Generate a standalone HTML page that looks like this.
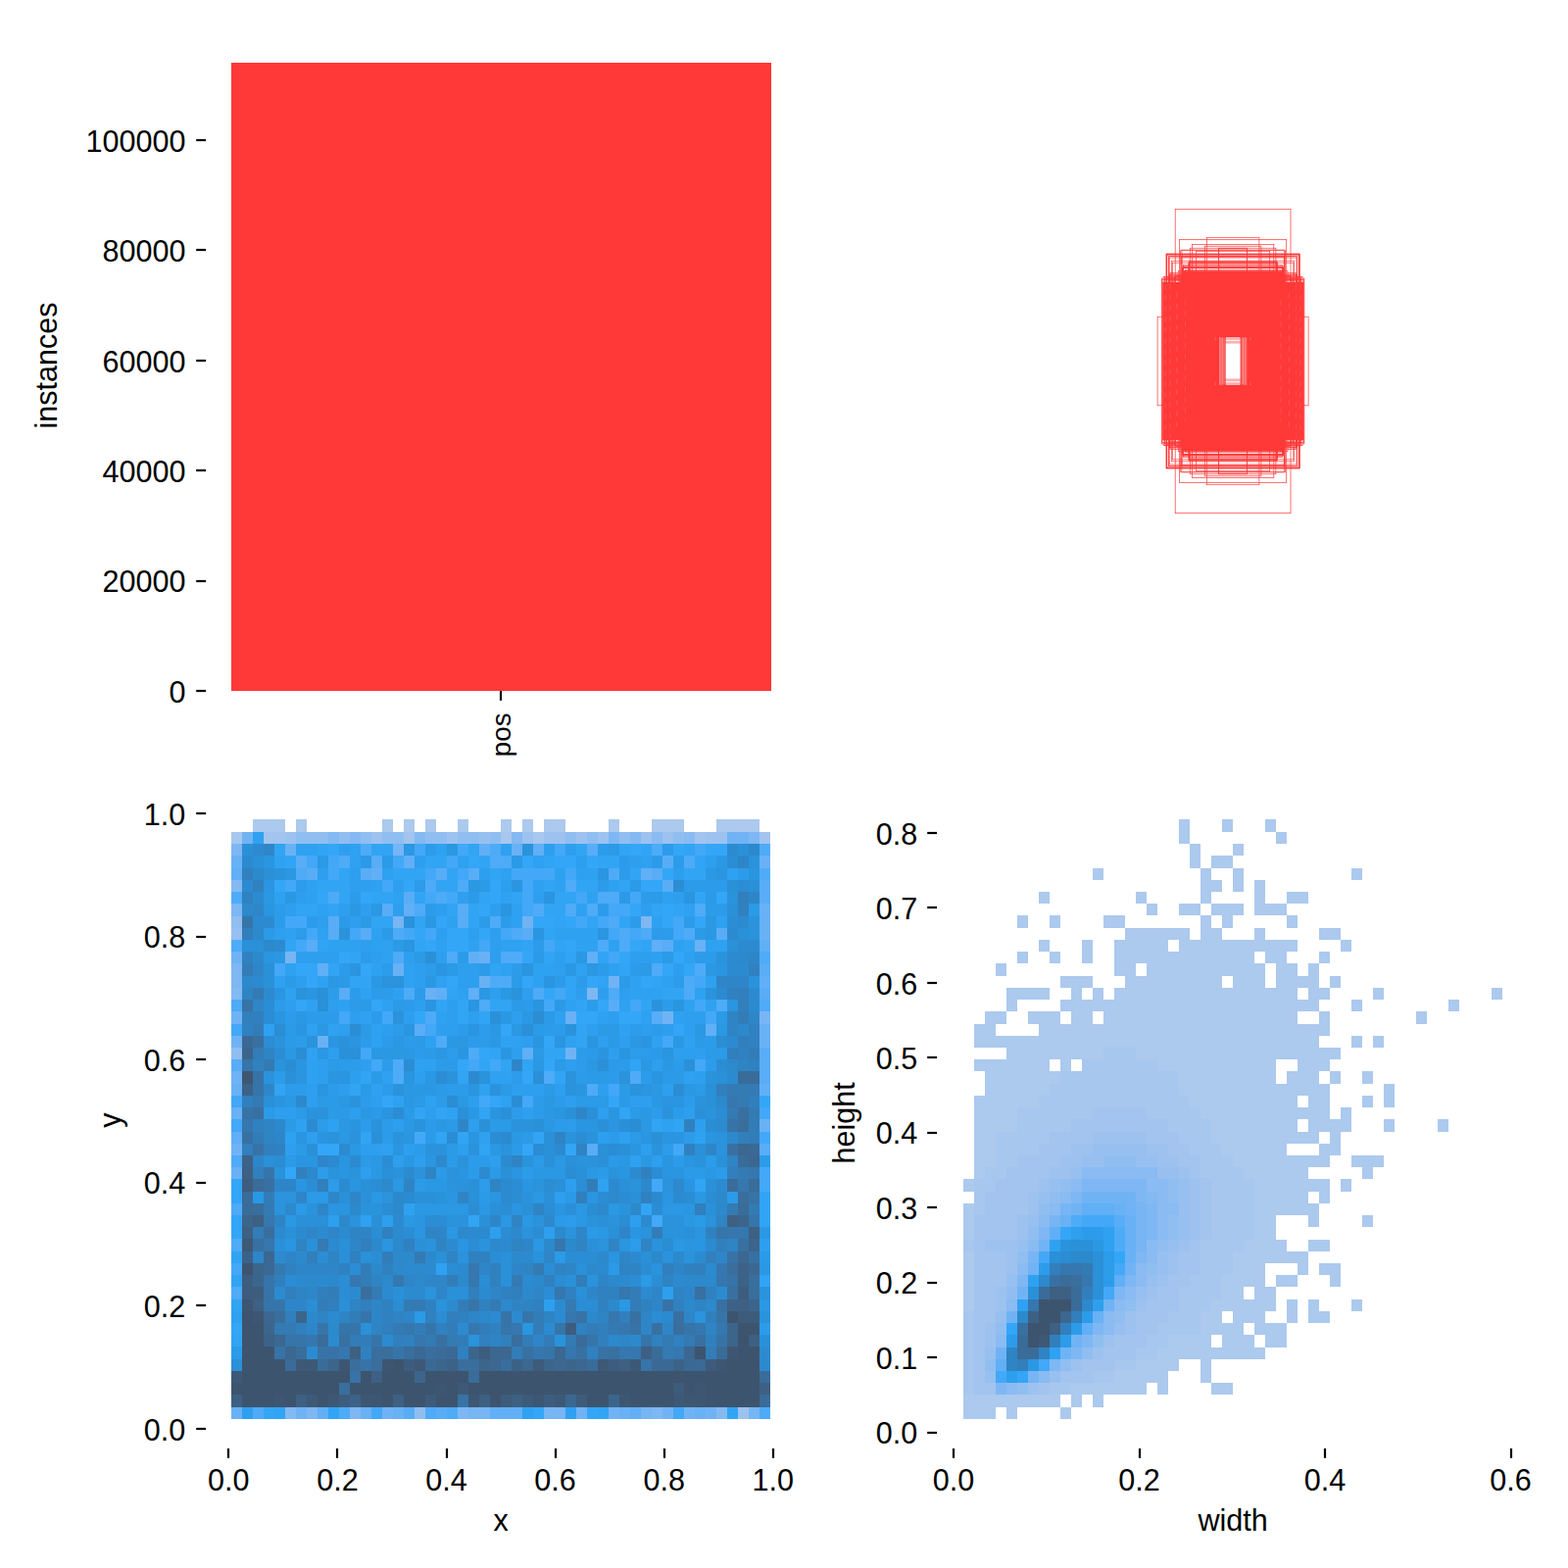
<!DOCTYPE html>
<html><head><meta charset="utf-8"><title>labels</title>
<style>html,body{margin:0;padding:0;background:#fff;font-family:"Liberation Sans",sans-serif}svg{display:block}</style>
</head><body>
<svg width="1600" height="1600" viewBox="0 0 1600 1600" role="img" aria-label="Label statistics: instances per class, box shapes, x/y centre histogram, width/height histogram">
<rect width="1600" height="1600" fill="#fff"/>
<rect x="236" y="64" width="551" height="641" fill="#ff3838" shape-rendering="crispEdges"/>
<g shape-rendering="crispEdges"><path fill="#acc9ee" d="M1203 836h11v13h-11zM1247 836h11v13h-11zM1291 836h11v13h-11zM1203 849h11v12h-11zM1302 849h11v12h-11zM1214 861h11v12h-11zM1258 861h11v12h-11zM1214 873h11v13h-11zM1236 873h22v13h-22zM1115 886h11v12h-11zM1225 886h11v12h-11zM1258 886h11v12h-11zM1379 886h11v12h-11zM1225 898h22v12h-22zM1258 898h11v12h-11zM1280 898h11v12h-11zM1060 910h11v12h-11zM1159 910h11v12h-11zM1225 910h11v12h-11zM1280 910h11v12h-11zM1313 910h22v12h-22zM1170 922h11v12h-11zM1203 922h22v12h-22zM1236 922h33v12h-33zM1280 922h33v12h-33zM1038 934h11v13h-11zM1071 934h11v13h-11zM1126 934h22v13h-22zM1225 934h11v13h-11zM1247 934h11v13h-11zM1313 934h11v13h-11zM1148 947h66v12h-66zM1225 947h22v12h-22zM1280 947h11v12h-11zM1346 947h22v12h-22zM1060 959h11v12h-11zM1104 959h11v12h-11zM1137 959h55v12h-55zM1203 959h121v12h-121zM1368 959h11v12h-11zM1038 971h11v12h-11zM1071 971h11v12h-11zM1104 971h11v12h-11zM1137 971h143v12h-143zM1291 971h22v12h-22zM1346 971h11v12h-11zM1016 983h11v13h-11zM1137 983h22v13h-22zM1170 983h121v13h-121zM1302 983h22v13h-22zM1335 983h11v13h-11zM1082 996h33v12h-33zM1148 996h99v12h-99zM1258 996h33v12h-33zM1302 996h44v12h-44zM1357 996h11v12h-11zM1027 1008h44v12h-44zM1093 1008h11v12h-11zM1115 1008h11v12h-11zM1137 1008h187v12h-187zM1335 1008h22v12h-22zM1401 1008h11v12h-11zM1522 1008h11v12h-11zM1027 1020h11v12h-11zM1082 1020h264v12h-264zM1379 1020h11v12h-11zM1478 1020h11v12h-11zM1005 1032h22v13h-22zM1049 1032h33v13h-33zM1093 1032h22v13h-22zM1126 1032h198v13h-198zM1346 1032h11v13h-11zM1445 1032h11v13h-11zM994 1045h22v12h-22zM1060 1045h297v12h-297zM994 1057h352v12h-352zM1379 1057h11v12h-11zM1401 1057h11v12h-11zM1027 1069h99v12h-99zM1159 1069h209v12h-209zM994 1081h77v12h-77zM1082 1081h11v12h-11zM1181 1081h121v12h-121zM1324 1081h33v12h-33zM1005 1093h77v13h-77zM1203 1093h99v13h-99zM1313 1093h33v13h-33zM1357 1093h11v13h-11zM1390 1093h11v13h-11zM1005 1106h66v12h-66zM1203 1106h154v12h-154zM1412 1106h11v12h-11zM994 1118h66v12h-66zM1214 1118h110v12h-110zM1335 1118h22v12h-22zM1390 1118h11v12h-11zM1412 1118h11v12h-11zM994 1130h44v12h-44zM1225 1130h132v12h-132zM1368 1130h11v12h-11zM994 1142h44v13h-44zM1236 1142h88v13h-88zM1335 1142h44v13h-44zM1412 1142h11v13h-11zM1467 1142h11v13h-11zM994 1155h22v12h-22zM1236 1155h110v12h-110zM1357 1155h11v12h-11zM994 1167h22v12h-22zM1247 1167h66v12h-66zM1346 1167h22v12h-22zM994 1179h22v12h-22zM1258 1179h99v12h-99zM1379 1179h33v12h-33zM994 1191h11v12h-11zM1269 1191h66v12h-66zM1390 1191h11v12h-11zM983 1203h11v13h-11zM1280 1203h77v13h-77zM1368 1203h11v13h-11zM1280 1216h55v12h-55zM1346 1216h11v12h-11zM983 1228h11v12h-11zM1280 1228h66v12h-66zM983 1240h11v12h-11zM1280 1240h22v12h-22zM1335 1240h11v12h-11zM1390 1240h11v12h-11zM983 1252h11v13h-11zM1280 1252h22v13h-22zM1269 1265h44v12h-44zM1335 1265h22v12h-22zM983 1277h11v12h-11zM1258 1277h77v12h-77zM983 1289h11v12h-11zM1258 1289h33v12h-33zM1324 1289h11v12h-11zM1346 1289h22v12h-22zM983 1301h11v12h-11zM1247 1301h44v12h-44zM1302 1301h22v12h-22zM1357 1301h11v12h-11zM983 1313h11v13h-11zM1247 1313h22v13h-22zM1280 1313h22v13h-22zM983 1326h11v12h-11zM1236 1326h66v12h-66zM1313 1326h11v12h-11zM1335 1326h11v12h-11zM1379 1326h11v12h-11zM1225 1338h22v12h-22zM1258 1338h33v12h-33zM1313 1338h11v12h-11zM1335 1338h22v12h-22zM1225 1350h44v12h-44zM1280 1350h33v12h-33zM1192 1362h44v13h-44zM1247 1362h33v13h-33zM1291 1362h22v13h-22zM1181 1375h110v12h-110zM1159 1387h44v12h-44zM1225 1387h11v12h-11zM1137 1399h55v12h-55zM1225 1399h11v12h-11zM1093 1411h77v12h-77zM1181 1411h11v12h-11zM1236 1411h22v12h-22zM983 1423h99v13h-99zM1093 1423h11v13h-11zM1115 1423h11v13h-11zM983 1436h33v12h-33zM1027 1436h11v12h-11zM1082 1436h11v12h-11z"/><path fill="#a7c7ef" d="M1126 1069h33v12h-33zM1104 1081h77v12h-77zM1082 1093h121v13h-121zM1071 1106h132v12h-132zM1060 1118h154v12h-154zM1038 1130h77v12h-77zM1170 1130h55v12h-55zM1038 1142h55v13h-55zM1192 1142h44v13h-44zM1016 1155h55v12h-55zM1203 1155h33v12h-33zM1016 1167h44v12h-44zM1214 1167h33v12h-33zM1016 1179h22v12h-22zM1225 1179h33v12h-33zM1005 1191h22v12h-22zM1225 1191h44v12h-44zM994 1203h22v13h-22zM1236 1203h44v13h-44zM994 1216h11v12h-11zM1236 1216h44v12h-44zM994 1228h11v12h-11zM1236 1228h44v12h-44zM1236 1240h44v12h-44zM1236 1252h44v13h-44zM983 1265h11v12h-11zM1225 1265h44v12h-44zM1225 1277h33v12h-33zM1225 1289h33v12h-33zM1214 1301h33v12h-33zM1203 1313h44v13h-44zM1203 1326h33v12h-33zM983 1338h11v12h-11zM1192 1338h33v12h-33zM983 1350h11v12h-11zM1181 1350h44v12h-44zM983 1362h11v13h-11zM1170 1362h22v13h-22zM983 1375h11v12h-11zM1159 1375h22v12h-22zM983 1387h11v12h-11zM1137 1387h22v12h-22zM983 1399h11v12h-11zM1115 1399h22v12h-22zM983 1411h11v12h-11zM1071 1411h22v12h-22z"/><path fill="#a2c4ef" d="M1115 1130h55v12h-55zM1093 1142h99v13h-99zM1071 1155h44v12h-44zM1170 1155h33v12h-33zM1060 1167h33v12h-33zM1192 1167h22v12h-22zM1038 1179h44v12h-44zM1203 1179h22v12h-22zM1027 1191h44v12h-44zM1214 1191h11v12h-11zM1016 1203h44v13h-44zM1225 1203h11v13h-11zM1005 1216h44v12h-44zM1225 1216h11v12h-11zM1005 1228h44v12h-44zM1225 1228h11v12h-11zM994 1240h44v12h-44zM1225 1240h11v12h-11zM994 1252h44v13h-44zM1225 1252h11v13h-11zM994 1265h11v12h-11zM1214 1265h11v12h-11zM994 1277h33v12h-33zM1203 1277h22v12h-22zM994 1289h33v12h-33zM1203 1289h22v12h-22zM994 1301h33v12h-33zM1192 1301h22v12h-22zM994 1313h22v13h-22zM1181 1313h22v13h-22zM994 1326h22v12h-22zM1170 1326h33v12h-33zM994 1338h22v12h-22zM1159 1338h33v12h-33zM994 1350h11v12h-11zM1159 1350h22v12h-22zM994 1362h11v13h-11zM1137 1362h33v13h-33zM994 1375h11v12h-11zM1126 1375h33v12h-33zM994 1387h11v12h-11zM1104 1387h33v12h-33zM994 1399h11v12h-11zM1082 1399h33v12h-33zM994 1411h22v12h-22zM1060 1411h11v12h-11z"/><path fill="#9dc2f0" d="M1115 1155h55v12h-55zM1093 1167h22v12h-22zM1170 1167h22v12h-22zM1082 1179h22v12h-22zM1181 1179h22v12h-22zM1071 1191h22v12h-22zM1203 1191h11v12h-11zM1060 1203h11v13h-11zM1214 1203h11v13h-11zM1049 1216h11v12h-11zM1214 1216h11v12h-11zM1049 1228h11v12h-11zM1214 1228h11v12h-11zM1038 1240h11v12h-11zM1214 1240h11v12h-11zM1038 1252h11v13h-11zM1214 1252h11v13h-11zM1005 1265h33v12h-33zM1203 1265h11v12h-11zM1027 1277h11v12h-11zM1192 1277h11v12h-11zM1027 1289h11v12h-11zM1192 1289h11v12h-11zM1181 1301h11v12h-11zM1016 1313h11v13h-11zM1170 1313h11v13h-11zM1016 1326h11v12h-11zM1159 1326h11v12h-11zM1148 1338h11v12h-11zM1005 1350h11v12h-11zM1148 1350h11v12h-11zM1005 1362h11v13h-11zM1126 1362h11v13h-11zM1115 1375h11v12h-11zM1093 1387h11v12h-11zM1049 1411h11v12h-11z"/><path fill="#97c0f0" d="M1115 1167h55v12h-55zM1104 1179h22v12h-22zM1159 1179h22v12h-22zM1093 1191h11v12h-11zM1181 1191h22v12h-22zM1071 1203h11v13h-11zM1203 1203h11v13h-11zM1060 1216h11v12h-11zM1203 1216h11v12h-11zM1203 1228h11v12h-11zM1049 1240h11v12h-11zM1203 1240h11v12h-11zM1203 1252h11v13h-11zM1038 1265h11v12h-11zM1192 1265h11v12h-11zM1181 1277h11v12h-11zM1181 1289h11v12h-11zM1027 1301h11v12h-11zM1170 1301h11v12h-11zM1159 1313h11v13h-11zM1016 1338h11v12h-11zM1137 1350h11v12h-11zM1005 1375h11v12h-11zM1005 1399h11v12h-11zM1071 1399h11v12h-11z"/><path fill="#90bef1" d="M1126 1179h33v12h-33zM1082 1203h11v13h-11zM1192 1203h11v13h-11zM1071 1216h11v12h-11zM1192 1216h11v12h-11zM1060 1228h11v12h-11zM1192 1240h11v12h-11zM1049 1252h11v13h-11zM1192 1252h11v13h-11zM1181 1265h11v12h-11zM1038 1277h11v12h-11zM1170 1289h11v12h-11zM1027 1313h11v13h-11zM1148 1326h11v12h-11zM1137 1338h11v12h-11zM1016 1350h11v12h-11zM1115 1362h11v13h-11zM1104 1375h11v12h-11zM1005 1387h11v12h-11zM1082 1387h11v12h-11zM1038 1411h11v12h-11z"/><path fill="#8abbf2" d="M1104 1191h77v12h-77zM1093 1203h11v13h-11zM1170 1203h22v13h-22zM1082 1216h11v12h-11zM1181 1216h11v12h-11zM1071 1228h11v12h-11zM1181 1228h22v12h-22zM1060 1240h11v12h-11zM1181 1240h11v12h-11zM1181 1252h11v13h-11zM1049 1265h11v12h-11zM1170 1265h11v12h-11zM1170 1277h11v12h-11zM1038 1289h11v12h-11zM1159 1289h11v12h-11zM1159 1301h11v12h-11zM1148 1313h11v13h-11zM1027 1326h11v12h-11zM1137 1326h11v12h-11zM1126 1338h11v12h-11zM1126 1350h11v12h-11zM1016 1362h11v13h-11zM1060 1399h11v12h-11zM1027 1411h11v12h-11z"/><path fill="#84b9f2" d="M1170 1216h11v12h-11z"/><path fill="#7eb7f3" d="M1104 1203h66v13h-66zM1093 1216h11v12h-11zM1159 1216h11v12h-11zM1170 1228h11v12h-11zM1170 1240h11v12h-11zM1060 1252h11v13h-11zM1170 1252h11v13h-11zM1159 1277h11v12h-11zM1038 1301h11v12h-11zM1148 1301h11v12h-11zM1137 1313h11v13h-11zM1115 1350h11v12h-11zM1104 1362h11v13h-11zM1093 1375h11v12h-11zM1071 1387h11v12h-11zM1016 1411h11v12h-11z"/><path fill="#77b5f4" d="M1082 1228h11v12h-11zM1159 1228h11v12h-11zM1071 1240h11v12h-11zM1159 1240h11v12h-11zM1159 1252h11v13h-11zM1159 1265h11v12h-11zM1049 1277h11v12h-11zM1049 1399h11v12h-11z"/><path fill="#70b3f4" d="M1104 1216h55v12h-55zM1093 1228h11v12h-11zM1148 1228h11v12h-11zM1060 1265h11v12h-11zM1049 1289h11v12h-11zM1148 1289h11v12h-11zM1038 1313h11v13h-11zM1126 1326h11v12h-11zM1027 1338h11v12h-11zM1093 1362h11v13h-11zM1016 1375h11v12h-11zM1082 1375h11v12h-11z"/><path fill="#69b1f5" d="M1137 1228h11v12h-11zM1082 1240h11v12h-11zM1148 1240h11v12h-11zM1148 1252h11v13h-11zM1148 1265h11v12h-11zM1148 1277h11v12h-11zM1115 1338h11v12h-11z"/><path fill="#61aff6" d="M1104 1228h33v12h-33zM1071 1252h11v13h-11zM1137 1301h11v12h-11zM1104 1350h11v12h-11zM1016 1387h11v12h-11z"/><path fill="#58adf6" d="M1137 1240h11v12h-11z"/><path fill="#4eabf7" d="M1093 1240h11v12h-11zM1137 1252h11v13h-11zM1137 1265h11v12h-11z"/><path fill="#43a8f7" d="M1104 1240h33v12h-33zM1060 1277h11v12h-11zM1137 1289h11v12h-11zM1126 1313h11v13h-11zM1060 1387h11v12h-11zM1016 1399h11v12h-11z"/><path fill="#34a6f7" d="M1082 1252h11v13h-11zM1137 1277h11v12h-11zM1027 1350h11v12h-11zM1038 1399h11v12h-11z"/><path fill="#2fa1f1" d="M1126 1252h11v13h-11zM1071 1265h11v12h-11zM1126 1265h11v12h-11zM1049 1301h11v12h-11zM1038 1326h11v12h-11zM1071 1375h11v12h-11z"/><path fill="#2e9fee" d="M1093 1252h11v13h-11zM1115 1326h11v12h-11zM1027 1399h11v12h-11z"/><path fill="#2c9cea" d="M1104 1252h22v13h-22zM1126 1277h11v12h-11zM1060 1289h11v12h-11zM1126 1289h11v12h-11zM1126 1301h11v12h-11zM1104 1338h11v12h-11zM1093 1350h11v12h-11zM1027 1362h11v13h-11zM1082 1362h11v13h-11z"/><path fill="#2a98e3" d="M1115 1265h11v12h-11zM1049 1387h11v12h-11z"/><path fill="#2a93dc" d="M1082 1265h11v12h-11z"/><path fill="#2a90d8" d="M1093 1265h22v12h-22zM1071 1277h11v12h-11zM1115 1277h11v12h-11zM1115 1289h11v12h-11zM1115 1301h11v12h-11zM1049 1313h11v13h-11zM1115 1313h11v13h-11z"/><path fill="#2b8dd4" d="M1082 1277h11v12h-11z"/><path fill="#2c89cc" d="M1093 1277h22v12h-22zM1060 1301h11v12h-11zM1104 1326h11v12h-11zM1038 1338h11v12h-11z"/><path fill="#2f84c4" d="M1027 1375h11v12h-11zM1060 1375h11v12h-11zM1027 1387h11v12h-11z"/><path fill="#317fbc" d="M1071 1289h11v12h-11zM1104 1313h11v13h-11zM1093 1338h11v12h-11zM1082 1350h11v12h-11zM1071 1362h11v13h-11zM1038 1387h11v12h-11z"/><path fill="#347ab3" d="M1104 1289h11v12h-11z"/><path fill="#3577ae" d="M1082 1289h22v12h-22zM1104 1301h11v12h-11zM1049 1326h11v12h-11z"/><path fill="#3870a2" d="M1071 1301h11v12h-11zM1038 1350h11v12h-11z"/><path fill="#396e9d" d="M1093 1301h11v12h-11z"/><path fill="#3a6c99" d="M1082 1301h11v12h-11zM1060 1313h11v13h-11zM1093 1313h11v13h-11zM1093 1326h11v12h-11zM1038 1362h11v13h-11zM1038 1375h22v12h-22z"/><path fill="#3b6790" d="M1082 1338h11v12h-11z"/><path fill="#3d6083" d="M1071 1313h22v13h-22zM1049 1338h11v12h-11zM1071 1350h11v12h-11z"/><path fill="#3d5976" d="M1060 1362h11v13h-11z"/><path fill="#3d546e" d="M1060 1326h33v12h-33zM1060 1338h22v12h-22zM1049 1350h22v12h-22zM1049 1362h11v13h-11z"/></g><g shape-rendering="crispEdges"><path fill="#acc9ee" d="M258 836h33v13h-33zM302 836h11v13h-11zM390 836h11v13h-11zM412 836h11v13h-11zM434 836h11v13h-11zM467 836h11v13h-11zM511 836h11v13h-11zM533 836h11v13h-11zM555 836h22v13h-22zM621 836h11v13h-11zM665 836h33v13h-33zM731 836h44v13h-44z"/><path fill="#a7c7ef" d="M236 849h11v12h-11zM511 849h11v12h-11zM544 849h11v12h-11z"/><path fill="#a2c4ef" d="M269 849h22v12h-22zM412 849h11v12h-11zM709 849h11v12h-11zM775 849h11v12h-11z"/><path fill="#9dc2f0" d="M291 849h11v12h-11zM379 849h11v12h-11zM456 849h11v12h-11zM533 849h11v12h-11zM555 849h22v12h-22zM588 849h11v12h-11zM610 849h11v12h-11zM654 849h11v12h-11zM676 849h11v12h-11zM720 849h22v12h-22zM753 1436h11v12h-11z"/><path fill="#97c0f0" d="M489 849h11v12h-11zM236 947h11v12h-11z"/><path fill="#90bef1" d="M302 849h33v12h-33zM346 849h11v12h-11zM368 849h11v12h-11zM390 849h22v12h-22zM434 849h22v12h-22zM467 849h22v12h-22zM500 849h11v12h-11zM577 849h11v12h-11zM599 849h11v12h-11zM632 849h11v12h-11zM687 849h11v12h-11zM236 935h11v12h-11zM236 1069h11v12h-11zM423 1436h11v12h-11z"/><path fill="#8abbf2" d="M665 849h11v12h-11zM698 849h11v12h-11z"/><path fill="#84b9f2" d="M335 849h11v12h-11zM357 849h11v12h-11zM423 849h11v12h-11zM522 849h11v12h-11zM643 849h11v12h-11zM236 898h11v12h-11zM236 1008h11v12h-11zM291 1436h11v12h-11zM731 1436h11v12h-11z"/><path fill="#7eb7f3" d="M621 849h11v12h-11zM764 849h11v12h-11zM236 861h11v12h-11zM236 922h11v13h-11zM654 935h11v12h-11zM236 983h11v13h-11zM236 996h11v12h-11zM599 1008h11v12h-11zM313 1436h11v12h-11zM357 1436h11v12h-11zM467 1436h11v12h-11zM665 1436h11v12h-11z"/><path fill="#77b5f4" d="M401 861h11v12h-11zM401 935h11v12h-11zM291 971h11v12h-11zM775 1032h11v13h-11zM478 1436h22v12h-22zM555 1436h22v12h-22zM654 1436h11v12h-11zM764 1436h11v12h-11z"/><path fill="#70b3f4" d="M247 849h11v12h-11zM742 849h22v12h-22zM533 935h11v12h-11zM236 971h11v12h-11zM621 996h11v12h-11zM236 1032h11v13h-11zM676 1032h11v13h-11zM236 1057h11v12h-11zM577 1069h11v12h-11zM236 1093h11v13h-11zM236 1167h11v12h-11zM302 1436h11v12h-11zM390 1436h11v12h-11zM588 1436h11v12h-11zM621 1436h11v12h-11zM676 1436h11v12h-11zM698 1436h11v12h-11zM720 1436h11v12h-11z"/><path fill="#69b1f5" d="M291 861h11v12h-11zM522 861h11v12h-11zM236 873h11v13h-11zM775 873h11v13h-11zM775 922h11v13h-11zM775 935h11v12h-11zM775 947h11v12h-11zM709 959h11v12h-11zM489 971h11v12h-11zM401 983h11v13h-11zM489 996h11v12h-11zM434 1008h11v12h-11zM577 1032h11v13h-11zM775 1045h11v12h-11zM324 1057h11v12h-11zM775 1057h11v12h-11zM236 1106h11v12h-11zM236 1130h11v12h-11zM775 1142h11v13h-11zM236 1191h11v12h-11zM236 1436h11v12h-11zM368 1436h11v12h-11zM401 1436h11v12h-11zM632 1436h11v12h-11zM709 1436h11v12h-11z"/><path fill="#61aff6" d="M489 861h11v12h-11zM544 861h11v12h-11zM412 873h11v13h-11zM236 886h11v12h-11zM379 886h11v12h-11zM654 886h11v12h-11zM412 922h11v13h-11zM665 959h11v12h-11zM775 959h11v12h-11zM478 971h11v12h-11zM599 971h11v12h-11zM324 983h11v13h-11zM775 996h11v12h-11zM445 1008h11v12h-11zM478 1008h11v12h-11zM720 1045h11v12h-11zM533 1069h11v12h-11zM775 1106h11v12h-11zM236 1155h11v12h-11zM324 1436h11v12h-11zM500 1436h33v12h-33zM643 1436h11v12h-11z"/><path fill="#58adf6" d="M599 861h11v12h-11zM302 873h11v13h-11zM379 873h11v13h-11zM676 873h11v13h-11zM313 886h11v12h-11zM368 886h11v12h-11zM445 886h11v12h-11zM478 886h11v12h-11zM665 886h11v12h-11zM676 898h11v12h-11zM775 898h11v12h-11zM412 910h11v12h-11zM775 910h11v12h-11zM390 922h11v13h-11zM467 922h11v13h-11zM335 935h11v12h-11zM467 935h11v12h-11zM335 947h11v12h-11zM368 947h11v12h-11zM533 947h11v12h-11zM731 947h11v12h-11zM313 959h11v12h-11zM676 959h11v12h-11zM775 983h11v13h-11zM346 1008h11v12h-11zM775 1008h11v12h-11zM621 1020h11v12h-11zM665 1032h11v13h-11zM423 1045h11v12h-11zM775 1069h11v12h-11zM236 1081h11v12h-11zM775 1081h11v12h-11zM775 1093h11v13h-11zM599 1167h11v12h-11zM775 1167h11v12h-11zM412 1436h11v12h-11zM445 1436h11v12h-11z"/><path fill="#4eabf7" d="M368 861h11v12h-11zM500 861h11v12h-11zM665 861h11v12h-11zM775 861h11v12h-11zM346 873h11v13h-11zM500 873h22v13h-22zM698 873h11v13h-11zM302 886h11v12h-11zM621 886h11v12h-11zM775 886h11v12h-11zM434 898h11v12h-11zM467 898h11v12h-11zM577 898h11v12h-11zM236 910h11v12h-11zM335 910h11v12h-11zM445 910h11v12h-11zM610 910h22v12h-22zM423 922h11v13h-11zM544 922h11v13h-11zM577 922h11v13h-11zM599 922h11v13h-11zM709 922h11v13h-11zM500 935h11v12h-11zM621 935h11v12h-11zM401 947h11v12h-11zM522 947h11v12h-11zM632 947h11v12h-11zM654 947h11v12h-11zM698 947h11v12h-11zM236 959h11v12h-11zM610 959h11v12h-11zM632 959h11v12h-11zM401 971h11v12h-11zM456 971h11v12h-11zM511 971h22v12h-22zM775 971h11v12h-11zM665 983h11v13h-11zM709 983h11v13h-11zM500 996h22v12h-22zM698 996h11v12h-11zM412 1008h11v12h-11zM544 1008h11v12h-11zM621 1008h11v12h-11zM698 1008h11v12h-11zM236 1020h11v12h-11zM489 1020h11v12h-11zM731 1020h11v12h-11zM775 1020h11v12h-11zM434 1032h11v13h-11zM445 1057h11v12h-11zM478 1069h11v12h-11zM401 1081h11v12h-11zM401 1093h11v13h-11zM555 1093h11v13h-11zM643 1093h11v13h-11zM599 1106h11v12h-11zM236 1179h11v12h-11zM236 1228h11v12h-11zM236 1264h11v13h-11zM236 1313h11v13h-11zM258 1436h11v12h-11zM346 1436h11v12h-11zM434 1436h11v12h-11zM456 1436h11v12h-11zM775 1436h11v12h-11z"/><path fill="#43a8f7" d="M423 861h11v12h-11zM467 861h11v12h-11zM566 861h11v12h-11zM709 861h11v12h-11zM313 873h11v13h-11zM335 873h11v13h-11zM401 873h11v13h-11zM456 873h11v13h-11zM335 886h11v12h-11zM434 886h11v12h-11zM467 886h11v12h-11zM522 886h44v12h-44zM577 886h11v12h-11zM291 898h11v12h-11zM390 898h11v12h-11zM533 898h11v12h-11zM434 910h11v12h-11zM456 910h11v12h-11zM533 910h11v12h-11zM588 910h11v12h-11zM643 910h11v12h-11zM533 922h11v13h-11zM621 922h22v13h-22zM291 935h22v12h-22zM588 935h11v12h-11zM610 935h11v12h-11zM687 935h11v12h-11zM313 947h11v12h-11zM357 947h11v12h-11zM412 947h11v12h-11zM434 947h11v12h-11zM511 947h11v12h-11zM621 947h11v12h-11zM643 947h11v12h-11zM687 947h11v12h-11zM302 959h11v12h-11zM489 959h11v12h-11zM555 959h11v12h-11zM621 971h11v12h-11zM280 983h11v13h-11zM709 996h11v12h-11zM566 1008h11v12h-11zM555 1020h11v12h-11zM643 1020h11v12h-11zM709 1020h11v12h-11zM346 1032h11v13h-11zM390 1032h11v13h-11zM720 1032h11v13h-11zM236 1045h11v12h-11zM434 1045h11v12h-11zM676 1057h11v12h-11zM368 1069h11v12h-11zM379 1081h11v12h-11zM478 1081h11v12h-11zM500 1081h11v12h-11zM709 1081h11v12h-11zM621 1106h11v12h-11zM236 1118h11v12h-11zM489 1118h11v12h-11zM533 1118h11v12h-11zM775 1130h11v12h-11zM236 1142h11v13h-11zM423 1155h11v12h-11zM775 1155h11v12h-11zM687 1167h11v12h-11zM775 1191h11v12h-11zM665 1203h11v13h-11zM775 1203h11v13h-11zM665 1240h11v12h-11zM236 1289h11v12h-11zM379 1436h11v12h-11zM687 1436h11v12h-11z"/><path fill="#34a6f7" d="M335 861h11v12h-11zM643 861h11v12h-11zM687 861h11v12h-11zM720 861h22v12h-22zM478 873h11v13h-11zM533 873h11v13h-11zM566 873h22v13h-22zM599 873h11v13h-11zM676 886h11v12h-11zM280 898h11v12h-11zM412 898h11v12h-11zM500 898h11v12h-11zM654 898h22v12h-22zM324 910h11v12h-11zM368 910h11v12h-11zM500 910h11v12h-11zM731 910h11v12h-11zM489 922h11v13h-11zM643 922h11v13h-11zM676 922h11v13h-11zM445 935h11v12h-11zM544 935h22v12h-22zM577 935h11v12h-11zM676 935h11v12h-11zM709 935h11v12h-11zM423 947h11v12h-11zM456 947h22v12h-22zM489 947h11v12h-11zM434 959h11v12h-11zM456 959h22v12h-22zM577 959h11v12h-11zM643 959h11v12h-11zM346 971h11v12h-11zM533 971h11v12h-11zM632 971h11v12h-11zM687 971h11v12h-11zM302 983h22v13h-22zM368 983h11v13h-11zM676 983h11v13h-11zM698 983h11v13h-11zM313 996h11v12h-11zM456 996h11v12h-11zM533 996h11v12h-11zM599 996h11v12h-11zM654 996h11v12h-11zM555 1008h11v12h-11zM302 1020h11v12h-11zM379 1020h11v12h-11zM610 1020h11v12h-11zM423 1032h11v13h-11zM588 1032h22v13h-22zM632 1032h22v13h-22zM511 1045h11v12h-11zM687 1045h11v12h-11zM555 1057h11v12h-11zM489 1069h11v12h-11zM467 1081h11v12h-11zM555 1081h11v12h-11zM533 1093h11v13h-11zM390 1118h11v12h-11zM500 1118h11v12h-11zM621 1118h11v12h-11zM775 1118h11v12h-11zM324 1167h22v12h-22zM533 1167h11v12h-11zM577 1167h11v12h-11zM291 1191h11v12h-11zM236 1203h11v13h-11zM236 1216h11v12h-11zM236 1240h11v12h-11zM236 1252h11v12h-11zM236 1350h11v12h-11zM269 1436h11v12h-11zM544 1436h11v12h-11zM599 1436h11v12h-11z"/><path fill="#32a4f4" d="M280 861h11v12h-11zM324 861h11v12h-11zM379 861h22v12h-22zM478 861h11v12h-11zM588 861h11v12h-11zM632 861h11v12h-11zM654 861h11v12h-11zM698 861h11v12h-11zM291 873h11v13h-11zM434 873h22v13h-22zM489 873h11v13h-11zM555 873h11v13h-11zM610 873h22v13h-22zM709 873h11v13h-11zM346 886h11v12h-11zM401 886h33v12h-33zM456 886h11v12h-11zM500 886h11v12h-11zM643 886h11v12h-11zM698 886h22v12h-22zM324 898h33v12h-33zM445 898h22v12h-22zM555 898h11v12h-11zM588 898h22v12h-22zM632 898h11v12h-11zM346 910h11v12h-11zM379 910h22v12h-22zM423 910h11v12h-11zM489 910h11v12h-11zM522 910h11v12h-11zM566 910h22v12h-22zM709 910h11v12h-11zM302 922h22v13h-22zM335 922h11v13h-11zM456 922h11v13h-11zM478 922h11v13h-11zM555 922h22v13h-22zM665 922h11v13h-11zM687 922h11v13h-11zM379 935h22v12h-22zM423 935h11v12h-11zM478 935h11v12h-11zM566 935h11v12h-11zM599 935h11v12h-11zM632 935h11v12h-11zM555 947h11v12h-11zM291 959h11v12h-11zM324 959h11v12h-11zM423 959h11v12h-11zM533 959h11v12h-11zM566 959h11v12h-11zM654 959h11v12h-11zM698 959h11v12h-11zM357 971h11v12h-11zM555 971h11v12h-11zM577 971h11v12h-11zM610 971h11v12h-11zM335 983h11v13h-11zM500 983h11v13h-11zM632 983h11v13h-11zM357 996h22v12h-22zM577 996h11v12h-11zM610 996h11v12h-11zM665 996h11v12h-11zM456 1008h11v12h-11zM577 1008h11v12h-11zM676 1008h22v12h-22zM445 1020h11v12h-11zM467 1020h11v12h-11zM500 1020h22v12h-22zM588 1020h11v12h-11zM654 1020h11v12h-11zM467 1032h11v13h-11zM489 1032h11v13h-11zM588 1045h11v12h-11zM588 1057h11v12h-11zM500 1069h11v12h-11zM555 1069h22v12h-22zM489 1081h11v12h-11zM511 1081h11v12h-11zM533 1081h11v12h-11zM643 1081h11v12h-11zM368 1093h11v13h-11zM467 1093h11v13h-11zM566 1093h11v13h-11zM280 1106h11v12h-11zM357 1106h11v12h-11zM423 1130h11v12h-11zM445 1130h11v12h-11zM489 1130h11v12h-11zM632 1130h11v12h-11zM665 1142h11v13h-11zM687 1142h11v13h-11zM368 1155h11v12h-11zM445 1155h11v12h-11zM467 1155h11v12h-11zM544 1155h11v12h-11zM489 1167h11v12h-11zM709 1203h11v13h-11zM775 1216h11v12h-11zM654 1228h11v12h-11zM775 1228h11v12h-11zM478 1240h11v12h-11zM775 1240h11v12h-11zM236 1277h11v12h-11zM236 1301h11v12h-11zM775 1301h11v12h-11zM236 1326h11v12h-11zM236 1362h11v12h-11zM280 1436h11v12h-11zM335 1436h11v12h-11zM610 1436h11v12h-11zM742 1436h11v12h-11z"/><path fill="#2fa1f1" d="M258 849h11v12h-11zM302 861h22v12h-22zM357 861h11v12h-11zM445 861h11v12h-11zM511 861h11v12h-11zM280 873h11v13h-11zM357 873h11v13h-11zM467 873h11v13h-11zM544 873h11v13h-11zM654 873h11v13h-11zM390 886h11v12h-11zM511 886h11v12h-11zM566 886h11v12h-11zM588 886h22v12h-22zM742 886h11v12h-11zM313 898h11v12h-11zM379 898h11v12h-11zM544 898h11v12h-11zM566 898h11v12h-11zM621 898h11v12h-11zM280 910h11v12h-11zM313 910h11v12h-11zM401 910h11v12h-11zM511 910h11v12h-11zM599 910h11v12h-11zM676 910h11v12h-11zM324 922h11v13h-11zM522 922h11v13h-11zM588 922h11v13h-11zM698 922h11v13h-11zM456 935h11v12h-11zM522 935h11v12h-11zM665 935h11v12h-11zM731 935h11v12h-11zM291 947h11v12h-11zM324 947h11v12h-11zM379 947h11v12h-11zM566 947h44v12h-44zM335 959h33v12h-33zM379 959h22v12h-22zM445 959h11v12h-11zM478 959h11v12h-11zM511 959h22v12h-22zM588 959h22v12h-22zM621 959h11v12h-11zM687 959h11v12h-11zM720 959h22v12h-22zM390 971h11v12h-11zM665 971h11v12h-11zM698 971h11v12h-11zM291 983h11v13h-11zM379 983h11v13h-11zM412 983h11v13h-11zM511 983h11v13h-11zM544 983h22v13h-22zM588 983h11v13h-11zM621 983h11v13h-11zM280 996h11v12h-11zM324 996h11v12h-11zM412 996h11v12h-11zM445 996h11v12h-11zM544 996h11v12h-11zM643 996h11v12h-11zM676 996h11v12h-11zM720 996h11v12h-11zM291 1008h11v12h-11zM368 1008h11v12h-11zM401 1008h11v12h-11zM467 1008h11v12h-11zM643 1008h33v12h-33zM709 1008h11v12h-11zM313 1020h11v12h-11zM346 1020h11v12h-11zM390 1020h11v12h-11zM577 1020h11v12h-11zM632 1020h11v12h-11zM698 1020h11v12h-11zM720 1020h11v12h-11zM368 1032h11v13h-11zM445 1032h11v13h-11zM566 1032h11v13h-11zM610 1032h11v13h-11zM654 1032h11v13h-11zM687 1032h11v13h-11zM269 1045h11v12h-11zM313 1045h11v12h-11zM335 1045h11v12h-11zM379 1045h11v12h-11zM632 1045h11v12h-11zM379 1057h11v12h-11zM434 1057h11v12h-11zM511 1057h22v12h-22zM577 1057h11v12h-11zM665 1057h11v12h-11zM698 1057h11v12h-11zM313 1069h11v12h-11zM313 1081h11v12h-11zM423 1081h22v12h-22zM313 1093h11v13h-11zM390 1093h11v13h-11zM500 1093h22v13h-22zM698 1093h11v13h-11zM379 1106h11v12h-11zM489 1106h11v12h-11zM401 1118h11v12h-11zM434 1118h11v12h-11zM511 1118h11v12h-11zM456 1130h11v12h-11zM302 1142h11v13h-11zM335 1142h11v13h-11zM676 1142h11v13h-11zM291 1155h11v12h-11zM489 1155h11v12h-11zM632 1155h11v12h-11zM709 1155h11v12h-11zM390 1167h11v12h-11zM643 1179h11v12h-11zM610 1203h11v13h-11zM412 1228h11v12h-11zM368 1240h11v12h-11zM445 1289h11v12h-11zM236 1338h11v12h-11zM533 1436h11v12h-11zM577 1436h11v12h-11z"/><path fill="#2e9fee" d="M346 861h11v12h-11zM555 861h11v12h-11zM577 861h11v12h-11zM423 873h11v13h-11zM588 873h11v13h-11zM643 873h11v13h-11zM720 873h11v13h-11zM324 886h11v12h-11zM357 886h11v12h-11zM489 886h11v12h-11zM687 886h11v12h-11zM357 898h22v12h-22zM401 898h11v12h-11zM511 898h11v12h-11zM302 910h11v12h-11zM467 910h11v12h-11zM544 910h11v12h-11zM687 910h11v12h-11zM291 922h11v13h-11zM346 922h11v13h-11zM368 922h11v13h-11zM401 922h11v13h-11zM445 922h11v13h-11zM500 922h11v13h-11zM654 922h11v13h-11zM324 935h11v12h-11zM357 935h11v12h-11zM280 947h11v12h-11zM445 947h11v12h-11zM478 947h11v12h-11zM500 947h11v12h-11zM368 959h11v12h-11zM500 959h11v12h-11zM302 971h44v12h-44zM379 971h11v12h-11zM412 971h11v12h-11zM445 971h11v12h-11zM500 971h11v12h-11zM566 971h11v12h-11zM643 971h22v12h-22zM423 983h11v13h-11zM467 983h22v13h-22zM566 983h11v13h-11zM687 983h11v13h-11zM302 996h11v12h-11zM423 996h11v12h-11zM467 996h22v12h-22zM500 1008h11v12h-11zM533 1008h11v12h-11zM588 1008h11v12h-11zM610 1008h11v12h-11zM632 1008h11v12h-11zM291 1020h11v12h-11zM335 1020h11v12h-11zM423 1020h11v12h-11zM456 1020h11v12h-11zM357 1032h11v13h-11zM412 1032h11v13h-11zM456 1032h11v13h-11zM478 1032h11v13h-11zM522 1032h11v13h-11zM621 1032h11v13h-11zM698 1032h22v13h-22zM346 1045h11v12h-11zM390 1045h11v12h-11zM445 1045h22v12h-22zM599 1045h11v12h-11zM654 1045h11v12h-11zM676 1045h11v12h-11zM698 1045h11v12h-11zM533 1057h11v12h-11zM610 1057h11v12h-11zM632 1057h11v12h-11zM335 1069h11v12h-11zM522 1069h11v12h-11zM621 1069h11v12h-11zM687 1069h33v12h-33zM324 1081h11v12h-11zM368 1081h11v12h-11zM577 1081h11v12h-11zM665 1081h11v12h-11zM324 1093h11v13h-11zM357 1093h11v13h-11zM423 1093h11v13h-11zM709 1093h11v13h-11zM313 1106h11v12h-11zM346 1106h11v12h-11zM522 1106h33v12h-33zM566 1106h11v12h-11zM610 1106h11v12h-11zM676 1106h11v12h-11zM313 1118h11v12h-11zM379 1118h11v12h-11zM478 1118h11v12h-11zM577 1118h11v12h-11zM643 1118h22v12h-22zM280 1130h22v12h-22zM357 1130h11v12h-11zM434 1130h11v12h-11zM533 1130h11v12h-11zM610 1130h11v12h-11zM698 1130h11v12h-11zM401 1142h11v13h-11zM478 1142h11v13h-11zM709 1142h11v13h-11zM313 1155h11v12h-11zM610 1155h11v12h-11zM291 1167h11v12h-11zM368 1167h22v12h-22zM412 1167h11v12h-11zM467 1167h11v12h-11zM654 1167h11v12h-11zM401 1179h11v12h-11zM423 1179h11v12h-11zM500 1179h11v12h-11zM665 1179h11v12h-11zM368 1191h11v12h-11zM577 1203h11v13h-11zM566 1216h11v12h-11zM335 1240h11v12h-11zM390 1240h11v12h-11zM643 1240h11v12h-11zM500 1252h11v12h-11zM555 1252h11v12h-11zM775 1264h11v13h-11zM676 1313h11v13h-11zM555 1326h11v12h-11zM247 1436h11v12h-11z"/><path fill="#2c9cea" d="M434 861h11v12h-11zM610 861h11v12h-11zM676 861h11v12h-11zM632 873h11v13h-11zM665 873h11v13h-11zM687 873h11v13h-11zM632 886h11v12h-11zM753 886h11v12h-11zM302 898h11v12h-11zM423 898h11v12h-11zM610 898h11v12h-11zM698 898h44v12h-44zM357 910h11v12h-11zM654 910h11v12h-11zM280 922h11v13h-11zM434 922h11v13h-11zM610 922h11v13h-11zM720 922h22v13h-22zM280 935h11v12h-11zM313 935h11v12h-11zM489 935h11v12h-11zM511 935h11v12h-11zM643 935h11v12h-11zM698 935h11v12h-11zM302 947h11v12h-11zM665 947h22v12h-22zM544 959h11v12h-11zM368 971h11v12h-11zM467 971h11v12h-11zM709 971h22v12h-22zM346 983h11v13h-11zM390 983h11v13h-11zM434 983h11v13h-11zM489 983h11v13h-11zM522 983h11v13h-11zM610 983h11v13h-11zM643 983h11v13h-11zM522 996h11v12h-11zM566 996h11v12h-11zM588 996h11v12h-11zM687 996h11v12h-11zM335 1008h11v12h-11zM357 1008h11v12h-11zM379 1008h22v12h-22zM423 1008h11v12h-11zM280 1020h11v12h-11zM357 1020h11v12h-11zM412 1020h11v12h-11zM533 1020h11v12h-11zM599 1020h11v12h-11zM676 1020h11v12h-11zM291 1032h11v13h-11zM313 1032h33v13h-33zM379 1032h11v13h-11zM401 1045h11v12h-11zM467 1045h11v12h-11zM489 1045h11v12h-11zM555 1045h22v12h-22zM643 1045h11v12h-11zM665 1045h11v12h-11zM302 1057h11v12h-11zM368 1057h11v12h-11zM390 1057h11v12h-11zM412 1057h11v12h-11zM478 1057h22v12h-22zM720 1057h11v12h-11zM423 1069h11v12h-11zM456 1069h11v12h-11zM588 1069h11v12h-11zM643 1069h22v12h-22zM346 1081h22v12h-22zM390 1081h11v12h-11zM445 1081h11v12h-11zM588 1081h11v12h-11zM632 1081h11v12h-11zM687 1081h11v12h-11zM720 1081h11v12h-11zM280 1093h11v13h-11zM522 1093h11v13h-11zM588 1093h11v13h-11zM621 1093h11v13h-11zM654 1093h11v13h-11zM291 1106h22v12h-22zM335 1106h11v12h-11zM390 1106h11v12h-11zM456 1106h22v12h-22zM368 1118h11v12h-11zM445 1118h11v12h-11zM544 1118h11v12h-11zM566 1118h11v12h-11zM698 1118h11v12h-11zM522 1130h11v12h-11zM544 1130h11v12h-11zM665 1130h11v12h-11zM687 1130h11v12h-11zM324 1142h11v13h-11zM368 1142h11v13h-11zM390 1142h11v13h-11zM434 1142h11v13h-11zM566 1142h22v13h-22zM390 1155h11v12h-11zM434 1155h11v12h-11zM621 1155h11v12h-11zM698 1155h11v12h-11zM423 1167h11v12h-11zM676 1167h11v12h-11zM478 1179h22v12h-22zM687 1179h11v12h-11zM720 1179h11v12h-11zM775 1179h11v12h-11zM324 1191h11v12h-11zM478 1191h11v12h-11zM533 1191h11v12h-11zM731 1191h11v12h-11zM335 1203h11v13h-11zM489 1203h11v13h-11zM577 1240h11v12h-11zM643 1264h11v13h-11zM775 1350h11v12h-11zM236 1374h11v13h-11z"/><path fill="#2b9ae7" d="M621 861h11v12h-11zM324 873h11v13h-11zM368 873h11v13h-11zM390 873h11v13h-11zM522 873h11v13h-11zM489 898h11v12h-11zM643 898h11v12h-11zM478 910h11v12h-11zM632 910h11v12h-11zM665 910h11v12h-11zM720 910h11v12h-11zM764 922h11v13h-11zM346 935h11v12h-11zM368 935h11v12h-11zM269 947h11v12h-11zM390 947h11v12h-11zM709 947h11v12h-11zM401 959h11v12h-11zM423 971h11v12h-11zM544 971h11v12h-11zM676 971h11v12h-11zM456 983h11v13h-11zM654 983h11v13h-11zM291 996h11v12h-11zM346 996h11v12h-11zM632 996h11v12h-11zM368 1020h11v12h-11zM401 1020h11v12h-11zM522 1020h11v12h-11zM566 1020h11v12h-11zM555 1032h11v13h-11zM731 1032h11v13h-11zM291 1045h11v12h-11zM368 1045h11v12h-11zM544 1045h11v12h-11zM610 1045h22v12h-22zM291 1057h11v12h-11zM423 1057h11v12h-11zM621 1057h11v12h-11zM709 1057h11v12h-11zM434 1069h11v12h-11zM544 1069h11v12h-11zM599 1069h11v12h-11zM665 1069h11v12h-11zM720 1069h22v12h-22zM335 1081h11v12h-11zM456 1081h11v12h-11zM566 1081h11v12h-11zM621 1081h11v12h-11zM379 1093h11v13h-11zM599 1093h22v13h-22zM676 1093h22v13h-22zM368 1106h11v12h-11zM445 1106h11v12h-11zM511 1106h11v12h-11zM555 1106h11v12h-11zM632 1106h11v12h-11zM709 1106h11v12h-11zM324 1118h22v12h-22zM423 1118h11v12h-11zM588 1118h33v12h-33zM632 1118h11v12h-11zM269 1130h11v12h-11zM302 1130h11v12h-11zM335 1130h22v12h-22zM379 1130h11v12h-11zM412 1130h11v12h-11zM643 1130h11v12h-11zM291 1142h11v13h-11zM456 1142h11v13h-11zM500 1142h22v13h-22zM533 1155h11v12h-11zM643 1155h11v12h-11zM302 1167h11v12h-11zM456 1167h11v12h-11zM522 1167h11v12h-11zM291 1179h11v12h-11zM368 1179h11v12h-11zM456 1179h11v12h-11zM544 1179h11v12h-11zM621 1179h11v12h-11zM445 1191h11v12h-11zM500 1191h11v12h-11zM610 1191h11v12h-11zM698 1191h22v12h-22zM423 1203h11v13h-11zM313 1216h22v12h-22zM489 1216h11v12h-11zM577 1216h11v12h-11zM742 1216h11v12h-11zM302 1228h11v12h-11zM566 1240h11v12h-11zM709 1240h11v12h-11zM599 1252h11v12h-11zM566 1277h11v12h-11zM775 1277h11v12h-11zM621 1289h11v12h-11zM654 1301h11v12h-11zM423 1338h11v12h-11z"/><path fill="#2a98e3" d="M412 861h11v12h-11zM456 861h11v12h-11zM731 873h11v13h-11zM291 886h11v12h-11zM720 886h11v12h-11zM478 898h11v12h-11zM269 910h11v12h-11zM291 910h11v12h-11zM357 922h11v13h-11zM379 922h11v13h-11zM434 935h11v12h-11zM720 935h11v12h-11zM720 947h11v12h-11zM280 971h11v12h-11zM588 971h11v12h-11zM577 983h11v13h-11zM599 983h11v13h-11zM720 983h11v13h-11zM335 996h11v12h-11zM379 996h11v12h-11zM434 996h11v12h-11zM489 1008h11v12h-11zM511 1008h11v12h-11zM302 1032h11v13h-11zM511 1032h11v13h-11zM533 1032h11v13h-11zM324 1045h11v12h-11zM500 1045h11v12h-11zM522 1045h11v12h-11zM709 1045h11v12h-11zM731 1045h11v12h-11zM401 1057h11v12h-11zM456 1057h22v12h-22zM500 1057h11v12h-11zM643 1057h11v12h-11zM687 1057h11v12h-11zM291 1069h11v12h-11zM324 1069h11v12h-11zM379 1069h44v12h-44zM445 1069h11v12h-11zM544 1081h11v12h-11zM599 1081h11v12h-11zM654 1081h11v12h-11zM676 1081h11v12h-11zM434 1093h11v13h-11zM412 1106h33v12h-33zM665 1106h11v12h-11zM698 1106h11v12h-11zM291 1118h11v12h-11zM346 1118h11v12h-11zM412 1118h11v12h-11zM467 1118h11v12h-11zM555 1118h11v12h-11zM665 1118h11v12h-11zM368 1130h11v12h-11zM478 1130h11v12h-11zM555 1130h11v12h-11zM654 1130h11v12h-11zM346 1142h11v13h-11zM412 1142h11v13h-11zM445 1142h11v13h-11zM555 1142h11v13h-11zM654 1142h11v13h-11zM346 1155h11v12h-11zM522 1155h11v12h-11zM357 1167h11v12h-11zM500 1167h11v12h-11zM379 1179h11v12h-11zM412 1179h11v12h-11zM566 1179h11v12h-11zM632 1179h11v12h-11zM654 1179h11v12h-11zM379 1191h11v12h-11zM544 1191h33v12h-33zM599 1191h11v12h-11zM720 1191h11v12h-11zM401 1203h11v13h-11zM434 1203h22v13h-22zM258 1216h11v12h-11zM379 1216h11v12h-11zM544 1216h11v12h-11zM709 1216h11v12h-11zM423 1228h55v12h-55zM489 1228h11v12h-11zM588 1228h11v12h-11zM621 1228h11v12h-11zM676 1228h22v12h-22zM291 1240h11v12h-11zM412 1240h11v12h-11zM511 1240h11v12h-11zM533 1240h11v12h-11zM588 1240h11v12h-11zM698 1240h11v12h-11zM456 1252h11v12h-11zM610 1252h11v12h-11zM775 1252h11v12h-11zM544 1264h11v13h-11zM687 1264h11v13h-11zM775 1289h11v12h-11zM632 1326h11v12h-11zM775 1326h11v12h-11z"/><path fill="#2a95e0" d="M269 873h11v13h-11zM610 886h11v12h-11zM731 886h11v12h-11zM764 886h11v12h-11zM269 898h11v12h-11zM522 898h11v12h-11zM555 910h11v12h-11zM698 910h11v12h-11zM269 922h11v13h-11zM511 922h11v13h-11zM544 947h11v12h-11zM610 947h11v12h-11zM412 959h11v12h-11zM269 971h11v12h-11zM357 983h11v13h-11zM445 983h11v13h-11zM533 983h11v13h-11zM731 983h11v13h-11zM555 996h11v12h-11zM280 1008h11v12h-11zM313 1008h11v12h-11zM434 1020h11v12h-11zM478 1020h11v12h-11zM544 1020h11v12h-11zM687 1020h11v12h-11zM742 1020h11v12h-11zM280 1032h11v13h-11zM302 1045h11v12h-11zM412 1045h11v12h-11zM478 1045h11v12h-11zM335 1057h11v12h-11zM357 1057h11v12h-11zM544 1057h11v12h-11zM566 1057h11v12h-11zM599 1057h11v12h-11zM654 1057h11v12h-11zM467 1069h11v12h-11zM511 1069h11v12h-11zM610 1069h11v12h-11zM632 1069h11v12h-11zM676 1069h11v12h-11zM302 1081h11v12h-11zM302 1093h11v13h-11zM335 1093h22v13h-22zM412 1093h11v13h-11zM665 1093h11v13h-11zM324 1106h11v12h-11zM478 1106h11v12h-11zM588 1106h11v12h-11zM654 1106h11v12h-11zM280 1118h11v12h-11zM676 1118h22v12h-22zM390 1130h11v12h-11zM500 1130h11v12h-11zM566 1130h11v12h-11zM621 1130h11v12h-11zM357 1142h11v13h-11zM588 1142h22v13h-22zM621 1142h11v13h-11zM302 1155h11v12h-11zM324 1155h11v12h-11zM412 1155h11v12h-11zM478 1155h11v12h-11zM654 1155h11v12h-11zM676 1155h22v12h-22zM720 1155h11v12h-11zM401 1167h11v12h-11zM643 1167h11v12h-11zM302 1179h22v12h-22zM346 1179h11v12h-11zM434 1179h11v12h-11zM676 1179h11v12h-11zM698 1179h11v12h-11zM346 1191h11v12h-11zM467 1191h11v12h-11zM522 1191h11v12h-11zM632 1191h11v12h-11zM676 1191h22v12h-22zM302 1203h11v13h-11zM357 1203h11v13h-11zM533 1203h11v13h-11zM698 1203h11v13h-11zM456 1216h11v12h-11zM500 1216h11v12h-11zM599 1216h11v12h-11zM676 1216h11v12h-11zM335 1228h22v12h-22zM522 1228h11v12h-11zM566 1228h11v12h-11zM698 1228h11v12h-11zM423 1240h11v12h-11zM423 1252h11v12h-11zM643 1252h11v12h-11zM709 1252h11v12h-11zM291 1264h11v13h-11zM390 1264h11v13h-11zM467 1264h11v13h-11zM632 1264h11v13h-11zM698 1264h22v13h-22zM621 1277h11v12h-11zM533 1350h11v12h-11z"/><path fill="#2a93dc" d="M533 861h11v12h-11zM764 873h11v13h-11zM280 886h11v12h-11zM742 910h11v12h-11zM412 935h11v12h-11zM764 935h11v12h-11zM346 947h11v12h-11zM764 947h11v12h-11zM731 971h11v12h-11zM390 996h22v12h-22zM764 996h11v12h-11zM302 1008h11v12h-11zM522 1008h11v12h-11zM720 1008h11v12h-11zM665 1020h11v12h-11zM401 1032h11v13h-11zM577 1045h11v12h-11zM280 1057h11v12h-11zM313 1057h11v12h-11zM346 1057h11v12h-11zM280 1081h11v12h-11zM269 1093h11v13h-11zM456 1093h11v13h-11zM489 1093h11v13h-11zM577 1093h11v13h-11zM632 1093h11v13h-11zM720 1093h11v13h-11zM401 1106h11v12h-11zM500 1106h11v12h-11zM577 1106h11v12h-11zM643 1106h11v12h-11zM357 1118h11v12h-11zM709 1118h11v12h-11zM313 1130h22v12h-22zM676 1130h11v12h-11zM720 1130h11v12h-11zM379 1142h11v13h-11zM423 1142h11v13h-11zM522 1142h22v13h-22zM335 1155h11v12h-11zM357 1155h11v12h-11zM401 1155h11v12h-11zM577 1155h11v12h-11zM599 1155h11v12h-11zM731 1155h11v12h-11zM434 1167h22v12h-22zM478 1167h11v12h-11zM511 1167h11v12h-11zM665 1167h11v12h-11zM731 1167h11v12h-11zM467 1179h11v12h-11zM533 1179h11v12h-11zM588 1179h22v12h-22zM709 1179h11v12h-11zM280 1191h11v12h-11zM335 1191h11v12h-11zM357 1191h11v12h-11zM401 1191h11v12h-11zM423 1191h11v12h-11zM456 1191h11v12h-11zM621 1191h11v12h-11zM456 1203h22v13h-22zM544 1203h11v13h-11zM643 1203h11v13h-11zM676 1203h11v13h-11zM280 1216h22v12h-22zM390 1216h11v12h-11zM445 1216h11v12h-11zM533 1216h11v12h-11zM280 1228h11v12h-11zM313 1228h11v12h-11zM368 1228h22v12h-22zM632 1228h11v12h-11zM357 1240h11v12h-11zM456 1240h22v12h-22zM544 1240h11v12h-11zM599 1240h11v12h-11zM621 1240h11v12h-11zM676 1240h22v12h-22zM720 1240h11v12h-11zM533 1252h11v12h-11zM577 1252h11v12h-11zM654 1252h11v12h-11zM676 1252h22v12h-22zM434 1264h11v13h-11zM489 1264h11v13h-11zM610 1264h11v13h-11zM665 1264h11v13h-11zM467 1277h11v12h-11zM544 1277h11v12h-11zM676 1277h11v12h-11zM698 1277h11v12h-11zM665 1289h11v12h-11zM599 1301h11v12h-11zM434 1313h11v13h-11zM775 1313h11v13h-11zM445 1326h11v12h-11zM709 1338h11v12h-11zM775 1338h11v12h-11zM478 1362h11v12h-11zM566 1362h11v12h-11z"/><path fill="#2a90d8" d="M247 861h11v12h-11zM753 861h11v12h-11zM258 873h11v13h-11zM269 886h11v12h-11zM742 898h11v12h-11zM764 898h11v12h-11zM742 922h11v13h-11zM753 947h11v12h-11zM247 959h22v12h-22zM742 959h11v12h-11zM434 971h11v12h-11zM269 983h11v13h-11zM269 996h11v12h-11zM324 1008h11v12h-11zM324 1020h11v12h-11zM500 1032h11v13h-11zM533 1045h11v12h-11zM346 1069h22v12h-22zM610 1081h11v12h-11zM698 1081h11v12h-11zM291 1093h11v13h-11zM544 1093h11v13h-11zM731 1093h11v13h-11zM720 1106h11v12h-11zM269 1118h11v12h-11zM720 1118h11v12h-11zM467 1130h11v12h-11zM511 1130h11v12h-11zM577 1130h11v12h-11zM599 1130h11v12h-11zM709 1130h11v12h-11zM489 1142h11v13h-11zM544 1142h11v13h-11zM610 1142h11v13h-11zM632 1142h11v13h-11zM379 1155h11v12h-11zM555 1155h11v12h-11zM665 1155h11v12h-11zM313 1167h11v12h-11zM555 1167h11v12h-11zM610 1167h11v12h-11zM632 1167h11v12h-11zM709 1167h11v12h-11zM269 1179h11v12h-11zM555 1179h11v12h-11zM577 1179h11v12h-11zM610 1179h11v12h-11zM731 1179h11v12h-11zM390 1191h11v12h-11zM511 1191h11v12h-11zM588 1191h11v12h-11zM368 1203h11v13h-11zM478 1203h11v13h-11zM566 1203h11v13h-11zM632 1203h11v13h-11zM720 1203h11v13h-11zM346 1216h11v12h-11zM368 1216h11v12h-11zM423 1216h22v12h-22zM478 1216h11v12h-11zM555 1216h11v12h-11zM643 1216h11v12h-11zM500 1228h11v12h-11zM533 1228h11v12h-11zM577 1228h11v12h-11zM720 1228h11v12h-11zM302 1240h33v12h-33zM379 1240h11v12h-11zM489 1240h11v12h-11zM610 1240h11v12h-11zM291 1252h11v12h-11zM621 1252h11v12h-11zM698 1252h11v12h-11zM280 1264h11v13h-11zM313 1264h11v13h-11zM346 1264h11v13h-11zM423 1264h11v13h-11zM599 1264h11v13h-11zM346 1277h11v12h-11zM368 1277h11v12h-11zM445 1277h11v12h-11zM511 1277h11v12h-11zM654 1277h11v12h-11zM511 1289h11v12h-11zM588 1289h11v12h-11zM511 1301h11v12h-11zM577 1301h11v12h-11zM401 1313h11v13h-11zM456 1313h22v13h-22zM588 1313h11v13h-11zM346 1326h11v12h-11zM368 1350h11v12h-11zM775 1362h11v12h-11zM236 1387h11v12h-11z"/><path fill="#2b8dd4" d="M742 873h11v13h-11zM687 898h11v12h-11zM753 898h11v12h-11zM742 935h11v12h-11zM269 1020h11v12h-11zM269 1032h11v13h-11zM544 1032h11v13h-11zM280 1045h11v12h-11zM357 1045h11v12h-11zM269 1057h11v12h-11zM731 1057h11v12h-11zM280 1069h11v12h-11zM302 1069h11v12h-11zM291 1081h11v12h-11zM412 1081h11v12h-11zM731 1081h11v12h-11zM445 1093h11v13h-11zM687 1106h11v12h-11zM456 1118h11v12h-11zM522 1118h11v12h-11zM401 1130h11v12h-11zM731 1130h11v12h-11zM643 1142h11v13h-11zM720 1142h11v13h-11zM456 1155h11v12h-11zM500 1155h11v12h-11zM588 1155h11v12h-11zM544 1167h11v12h-11zM621 1167h11v12h-11zM280 1179h11v12h-11zM390 1179h11v12h-11zM577 1191h11v12h-11zM665 1191h11v12h-11zM313 1203h11v13h-11zM379 1203h11v13h-11zM522 1203h11v13h-11zM555 1203h11v13h-11zM588 1203h11v13h-11zM522 1216h11v12h-11zM610 1216h11v12h-11zM632 1216h11v12h-11zM698 1216h11v12h-11zM720 1216h11v12h-11zM390 1228h11v12h-11zM478 1228h11v12h-11zM511 1228h11v12h-11zM555 1228h11v12h-11zM599 1228h11v12h-11zM665 1228h11v12h-11zM434 1240h22v12h-22zM632 1240h11v12h-11zM379 1252h11v12h-11zM412 1252h11v12h-11zM511 1252h11v12h-11zM544 1252h11v12h-11zM478 1264h11v13h-11zM676 1264h11v13h-11zM324 1277h11v12h-11zM379 1277h11v12h-11zM500 1277h11v12h-11zM577 1277h33v12h-33zM357 1289h11v12h-11zM456 1289h11v12h-11zM555 1289h11v12h-11zM654 1289h11v12h-11zM291 1301h11v12h-11zM346 1301h11v12h-11zM489 1301h11v12h-11zM566 1301h11v12h-11zM643 1301h11v12h-11zM665 1301h11v12h-11zM346 1313h11v13h-11zM555 1313h11v13h-11zM313 1326h11v12h-11zM401 1326h11v12h-11zM588 1326h22v12h-22zM445 1338h11v12h-11zM665 1338h11v12h-11z"/><path fill="#2c8bd0" d="M258 861h11v12h-11zM742 861h11v12h-11zM247 873h11v13h-11zM247 898h11v12h-11zM258 910h11v12h-11zM258 935h22v12h-22zM753 935h11v12h-11zM742 947h11v12h-11zM280 959h11v12h-11zM753 959h22v12h-22zM742 971h11v12h-11zM742 983h22v13h-22zM258 996h11v12h-11zM269 1008h11v12h-11zM731 1008h11v12h-11zM764 1008h11v12h-11zM764 1020h11v12h-11zM742 1057h11v12h-11zM478 1093h11v13h-11zM742 1093h11v13h-11zM313 1142h11v13h-11zM731 1142h11v13h-11zM511 1155h11v12h-11zM346 1167h11v12h-11zM566 1167h11v12h-11zM335 1179h11v12h-11zM357 1179h11v12h-11zM511 1179h11v12h-11zM412 1191h11v12h-11zM489 1191h11v12h-11zM643 1191h11v12h-11zM346 1203h11v13h-11zM511 1203h11v13h-11zM621 1203h11v13h-11zM731 1203h11v13h-11zM412 1216h11v12h-11zM511 1216h11v12h-11zM665 1216h11v12h-11zM687 1216h11v12h-11zM401 1240h11v12h-11zM654 1240h11v12h-11zM280 1252h11v12h-11zM302 1252h11v12h-11zM324 1252h11v12h-11zM346 1252h11v12h-11zM401 1252h11v12h-11zM478 1252h22v12h-22zM335 1264h11v13h-11zM456 1264h11v13h-11zM511 1264h11v13h-11zM720 1264h11v13h-11zM280 1277h11v12h-11zM533 1277h11v12h-11zM643 1277h11v12h-11zM709 1277h11v12h-11zM412 1289h11v12h-11zM434 1289h11v12h-11zM467 1289h11v12h-11zM610 1289h11v12h-11zM720 1289h11v12h-11zM302 1301h11v12h-11zM324 1301h11v12h-11zM533 1301h11v12h-11zM632 1301h11v12h-11zM687 1301h11v12h-11zM280 1313h11v13h-11zM357 1313h11v13h-11zM390 1313h11v13h-11zM412 1313h22v13h-22zM489 1313h11v13h-11zM654 1313h11v13h-11zM731 1313h11v13h-11zM456 1326h11v12h-11zM566 1326h11v12h-11zM335 1338h11v12h-11zM500 1338h11v12h-11zM522 1338h11v12h-11zM566 1338h11v12h-11zM676 1338h11v12h-11zM467 1350h11v12h-11zM555 1350h11v12h-11zM335 1362h11v12h-11zM390 1362h11v12h-11zM313 1374h11v13h-11zM775 1374h11v13h-11z"/><path fill="#2c89cc" d="M764 861h11v12h-11zM258 886h11v12h-11zM247 922h11v13h-11zM258 947h11v12h-11zM269 959h11v12h-11zM258 971h11v12h-11zM753 971h11v12h-11zM247 996h11v12h-11zM753 1045h11v12h-11zM742 1081h11v12h-11zM302 1118h11v12h-11zM731 1118h11v12h-11zM280 1142h11v13h-11zM742 1155h11v12h-11zM445 1179h11v12h-11zM313 1191h11v12h-11zM390 1203h11v13h-11zM654 1203h11v13h-11zM687 1203h11v13h-11zM401 1216h11v12h-11zM621 1216h11v12h-11zM731 1216h11v12h-11zM291 1228h11v12h-11zM357 1228h11v12h-11zM401 1228h11v12h-11zM610 1228h11v12h-11zM643 1228h11v12h-11zM731 1228h11v12h-11zM346 1240h11v12h-11zM555 1240h11v12h-11zM467 1252h11v12h-11zM522 1252h11v12h-11zM566 1252h11v12h-11zM379 1264h11v13h-11zM401 1264h11v13h-11zM500 1264h11v13h-11zM555 1264h11v13h-11zM577 1264h11v13h-11zM302 1277h11v12h-11zM401 1277h22v12h-22zM434 1277h11v12h-11zM522 1277h11v12h-11zM610 1277h11v12h-11zM665 1277h11v12h-11zM687 1277h11v12h-11zM379 1289h11v12h-11zM401 1289h11v12h-11zM423 1289h11v12h-11zM599 1289h11v12h-11zM313 1301h11v12h-11zM335 1301h11v12h-11zM390 1301h11v12h-11zM423 1301h11v12h-11zM467 1301h11v12h-11zM544 1301h11v12h-11zM621 1301h11v12h-11zM698 1301h33v12h-33zM533 1313h11v13h-11zM511 1326h11v12h-11zM621 1326h11v12h-11zM698 1326h11v12h-11zM720 1326h11v12h-11zM313 1338h11v12h-11zM489 1338h11v12h-11zM599 1338h11v12h-11zM335 1350h11v12h-11zM621 1362h11v12h-11zM643 1362h11v12h-11zM775 1387h11v12h-11z"/><path fill="#2e86c8" d="M269 861h11v12h-11zM753 873h11v13h-11zM764 910h11v12h-11zM258 922h11v13h-11zM764 971h11v12h-11zM258 983h11v13h-11zM731 996h33v12h-33zM258 1020h11v12h-11zM764 1032h11v13h-11zM522 1081h11v12h-11zM269 1106h11v12h-11zM588 1130h11v12h-11zM467 1142h11v13h-11zM280 1155h11v12h-11zM720 1167h11v12h-11zM258 1179h11v12h-11zM324 1179h11v12h-11zM280 1203h22v13h-22zM302 1216h11v12h-11zM335 1216h11v12h-11zM357 1216h11v12h-11zM324 1228h11v12h-11zM500 1240h11v12h-11zM313 1252h11v12h-11zM335 1252h11v12h-11zM445 1252h11v12h-11zM588 1252h11v12h-11zM632 1252h11v12h-11zM357 1264h11v13h-11zM533 1264h11v13h-11zM258 1277h11v12h-11zM291 1277h11v12h-11zM555 1277h11v12h-11zM632 1277h11v12h-11zM731 1277h11v12h-11zM302 1289h44v12h-44zM489 1289h11v12h-11zM522 1289h11v12h-11zM577 1289h11v12h-11zM687 1289h11v12h-11zM412 1301h11v12h-11zM434 1301h22v12h-22zM610 1301h11v12h-11zM313 1313h11v13h-11zM445 1313h11v13h-11zM500 1313h11v13h-11zM544 1313h11v13h-11zM599 1313h11v13h-11zM665 1313h11v13h-11zM698 1313h11v13h-11zM291 1326h22v12h-22zM379 1326h11v12h-11zM665 1326h11v12h-11zM379 1338h11v12h-11zM412 1338h11v12h-11zM478 1338h11v12h-11zM654 1338h11v12h-11zM698 1338h11v12h-11zM313 1350h11v12h-11zM654 1350h11v12h-11zM676 1350h11v12h-11zM544 1362h11v12h-11zM632 1362h11v12h-11z"/><path fill="#2f84c4" d="M247 1008h11v12h-11zM742 1032h11v13h-11zM742 1045h11v12h-11zM269 1069h11v12h-11zM753 1081h11v12h-11zM269 1142h11v13h-11zM269 1155h11v12h-11zM566 1155h11v12h-11zM588 1167h11v12h-11zM522 1179h11v12h-11zM742 1179h11v12h-11zM434 1191h11v12h-11zM412 1203h11v13h-11zM500 1203h11v13h-11zM467 1216h11v12h-11zM544 1228h11v12h-11zM280 1240h11v12h-11zM522 1240h11v12h-11zM731 1240h11v12h-11zM357 1252h22v12h-22zM434 1252h11v12h-11zM302 1264h11v13h-11zM445 1264h11v13h-11zM522 1264h11v13h-11zM588 1264h11v13h-11zM621 1264h11v13h-11zM654 1264h11v13h-11zM742 1264h11v13h-11zM335 1277h11v12h-11zM456 1277h11v12h-11zM533 1289h11v12h-11zM566 1289h11v12h-11zM632 1289h22v12h-22zM379 1301h11v12h-11zM676 1301h11v12h-11zM302 1313h11v13h-11zM687 1313h11v13h-11zM357 1326h11v12h-11zM522 1326h22v12h-22zM709 1326h11v12h-11zM324 1338h11v12h-11zM346 1338h11v12h-11zM401 1338h11v12h-11zM555 1338h11v12h-11zM610 1338h11v12h-11zM379 1350h11v12h-11zM720 1350h11v12h-11zM500 1362h11v12h-11z"/><path fill="#3081c0" d="M247 886h11v12h-11zM258 898h11v12h-11zM247 910h11v12h-11zM753 922h11v13h-11zM247 971h11v12h-11zM764 983h11v13h-11zM742 1008h11v12h-11zM247 1045h11v12h-11zM764 1045h11v12h-11zM764 1057h11v12h-11zM753 1069h11v12h-11zM258 1081h11v12h-11zM764 1081h11v12h-11zM258 1142h11v13h-11zM698 1142h11v13h-11zM280 1167h11v12h-11zM698 1167h11v12h-11zM302 1191h11v12h-11zM654 1191h11v12h-11zM654 1216h11v12h-11zM390 1252h11v12h-11zM720 1252h11v12h-11zM412 1264h11v13h-11zM357 1277h11v12h-11zM478 1277h22v12h-22zM291 1289h11v12h-11zM346 1289h11v12h-11zM390 1289h11v12h-11zM500 1289h11v12h-11zM698 1289h11v12h-11zM500 1301h11v12h-11zM555 1301h11v12h-11zM511 1313h11v13h-11zM577 1313h11v13h-11zM610 1313h22v13h-22zM720 1313h11v13h-11zM390 1326h11v12h-11zM434 1326h11v12h-11zM489 1326h11v12h-11zM544 1326h11v12h-11zM610 1326h11v12h-11zM654 1326h11v12h-11zM687 1326h11v12h-11zM390 1338h11v12h-11zM434 1338h11v12h-11zM467 1338h11v12h-11zM445 1350h11v12h-11zM500 1350h11v12h-11zM588 1350h11v12h-11zM412 1362h11v12h-11zM489 1362h11v12h-11zM665 1362h11v12h-11zM687 1362h11v12h-11zM368 1374h11v13h-11zM467 1374h11v13h-11zM599 1374h11v13h-11z"/><path fill="#317fbc" d="M753 910h11v12h-11zM247 947h11v12h-11zM753 1008h11v12h-11zM753 1020h11v12h-11zM247 1032h22v13h-22zM753 1057h11v12h-11zM742 1069h11v12h-11zM731 1106h11v12h-11zM247 1118h11v12h-11zM764 1118h11v12h-11zM753 1155h11v12h-11zM247 1167h11v12h-11zM269 1167h11v12h-11zM258 1191h11v12h-11zM742 1191h11v12h-11zM324 1203h11v13h-11zM588 1216h11v12h-11zM709 1228h11v12h-11zM368 1264h11v13h-11zM731 1264h11v13h-11zM313 1277h11v12h-11zM720 1277h11v12h-11zM676 1289h11v12h-11zM709 1289h11v12h-11zM280 1301h11v12h-11zM291 1313h11v13h-11zM324 1313h11v13h-11zM478 1313h11v13h-11zM522 1313h11v13h-11zM335 1326h11v12h-11zM368 1326h11v12h-11zM291 1338h11v12h-11zM456 1338h11v12h-11zM632 1338h11v12h-11zM720 1338h11v12h-11zM302 1350h11v12h-11zM390 1350h11v12h-11zM610 1350h11v12h-11zM401 1362h11v12h-11zM511 1362h11v12h-11zM610 1362h11v12h-11zM720 1362h11v12h-11z"/><path fill="#327db8" d="M247 983h11v13h-11zM753 1032h11v13h-11zM258 1045h11v12h-11zM258 1069h11v12h-11zM764 1069h11v12h-11zM764 1142h11v13h-11zM258 1155h11v12h-11zM764 1155h11v12h-11zM599 1203h11v13h-11zM269 1216h11v12h-11zM258 1252h11v12h-11zM665 1252h11v12h-11zM390 1277h11v12h-11zM368 1289h11v12h-11zM368 1301h11v12h-11zM456 1301h11v12h-11zM588 1301h11v12h-11zM335 1313h11v13h-11zM643 1313h11v13h-11zM324 1326h11v12h-11zM467 1326h11v12h-11zM643 1326h11v12h-11zM357 1338h11v12h-11zM544 1338h11v12h-11zM423 1350h11v12h-11zM456 1350h11v12h-11zM489 1350h11v12h-11zM544 1350h11v12h-11zM599 1350h11v12h-11zM357 1362h22v12h-22zM467 1362h11v12h-11zM533 1362h11v12h-11zM555 1362h11v12h-11zM522 1374h11v13h-11zM720 1374h11v13h-11z"/><path fill="#347ab3" d="M258 1008h11v12h-11zM269 1081h11v12h-11zM742 1106h33v12h-33zM258 1118h11v12h-11zM753 1118h11v12h-11zM742 1130h11v12h-11zM764 1130h11v12h-11zM753 1191h11v12h-11zM269 1228h11v12h-11zM742 1228h11v12h-11zM764 1228h11v12h-11zM324 1264h11v13h-11zM423 1277h11v12h-11zM280 1289h11v12h-11zM544 1289h11v12h-11zM522 1301h11v12h-11zM379 1313h11v13h-11zM412 1326h22v12h-22zM500 1326h11v12h-11zM577 1326h11v12h-11zM280 1350h22v12h-22zM401 1350h11v12h-11zM621 1350h11v12h-11zM434 1362h11v12h-11zM456 1362h11v12h-11zM577 1362h11v12h-11zM676 1362h11v12h-11zM698 1362h11v12h-11zM676 1374h11v13h-11z"/><path fill="#3577ae" d="M742 1118h11v12h-11zM247 1142h11v13h-11zM764 1191h11v12h-11zM753 1203h11v13h-11zM269 1240h11v12h-11zM742 1252h22v12h-22zM269 1264h11v13h-11zM566 1264h11v13h-11zM478 1289h11v12h-11zM731 1289h11v12h-11zM357 1301h11v12h-11zM401 1301h11v12h-11zM478 1301h11v12h-11zM731 1301h11v12h-11zM566 1313h11v13h-11zM632 1313h11v13h-11zM577 1338h11v12h-11zM621 1338h11v12h-11zM412 1350h11v12h-11zM478 1350h11v12h-11zM522 1350h11v12h-11zM632 1350h11v12h-11zM709 1350h11v12h-11zM731 1350h11v12h-11zM313 1362h11v12h-11zM423 1362h11v12h-11zM346 1374h11v13h-11zM544 1374h11v13h-11zM577 1374h11v13h-11zM632 1374h22v13h-22zM687 1374h11v13h-11z"/><path fill="#3675aa" d="M247 935h11v12h-11zM247 1081h11v12h-11zM258 1106h11v12h-11zM269 1191h11v12h-11zM764 1240h11v12h-11zM731 1252h11v12h-11zM269 1301h11v12h-11zM269 1326h22v12h-22zM478 1326h11v12h-11zM368 1338h11v12h-11zM533 1338h11v12h-11zM731 1338h11v12h-11zM324 1350h11v12h-11zM346 1350h22v12h-22zM434 1350h11v12h-11zM511 1350h11v12h-11zM566 1350h11v12h-11zM698 1350h11v12h-11zM291 1362h22v12h-22zM379 1362h11v12h-11zM599 1362h11v12h-11zM654 1362h11v12h-11zM401 1374h11v13h-11zM555 1374h11v13h-11zM654 1387h11v12h-11z"/><path fill="#3773a6" d="M247 1020h11v12h-11zM258 1093h11v13h-11zM247 1130h11v12h-11zM742 1142h11v13h-11zM258 1167h11v12h-11zM764 1216h11v12h-11zM742 1277h11v12h-11zM742 1301h11v12h-11zM269 1313h11v13h-11zM676 1326h11v12h-11zM511 1338h11v12h-11zM588 1338h11v12h-11zM643 1350h11v12h-11zM731 1362h11v12h-11zM280 1374h11v13h-11zM324 1374h22v13h-22zM610 1374h11v13h-11zM368 1387h11v12h-11zM357 1399h11v12h-11zM467 1423h11v13h-11z"/><path fill="#3870a2" d="M258 1057h11v12h-11zM258 1130h11v12h-11zM753 1130h11v12h-11zM247 1155h11v12h-11zM742 1167h11v12h-11zM269 1203h11v13h-11zM258 1264h11v13h-11zM753 1264h11v13h-11zM764 1277h11v12h-11zM709 1313h11v13h-11zM742 1313h11v13h-11zM731 1326h11v12h-11zM643 1338h11v12h-11zM687 1338h11v12h-11zM665 1350h11v12h-11zM346 1362h11v12h-11zM445 1362h11v12h-11zM709 1362h11v12h-11zM533 1374h11v13h-11zM588 1374h11v13h-11zM621 1374h11v13h-11z"/><path fill="#396e9d" d="M753 1142h11v13h-11zM753 1216h11v12h-11zM258 1228h11v12h-11zM269 1252h11v12h-11zM742 1289h11v12h-11zM764 1301h11v12h-11zM368 1313h11v13h-11zM764 1313h11v13h-11zM280 1338h11v12h-11zM687 1350h11v12h-11zM522 1362h11v12h-11zM302 1374h11v13h-11zM379 1374h22v13h-22zM412 1374h11v13h-11zM434 1374h11v13h-11zM357 1387h11v12h-11zM379 1387h11v12h-11zM467 1387h22v12h-22zM511 1387h11v12h-11zM346 1411h11v12h-11z"/><path fill="#3a6c99" d="M753 1093h22v13h-22zM753 1179h11v12h-11zM258 1203h11v13h-11zM742 1203h11v13h-11zM764 1203h11v13h-11zM247 1216h11v12h-11zM247 1228h11v12h-11zM753 1228h11v12h-11zM324 1362h11v12h-11zM588 1362h11v12h-11zM445 1374h11v13h-11zM665 1374h11v13h-11zM731 1374h11v13h-11zM291 1387h11v12h-11zM324 1387h11v12h-11zM599 1387h11v12h-11zM478 1399h11v12h-11zM775 1399h11v12h-11zM775 1423h11v13h-11z"/><path fill="#3b6995" d="M247 1057h11v12h-11zM764 1167h11v12h-11zM269 1289h11v12h-11zM423 1374h11v13h-11zM456 1374h11v13h-11zM434 1387h11v12h-11zM665 1387h22v12h-22zM698 1387h22v12h-22z"/><path fill="#3b6790" d="M753 1167h11v12h-11zM764 1179h11v12h-11zM269 1277h11v12h-11zM753 1277h11v12h-11zM764 1289h11v12h-11zM269 1338h11v12h-11zM280 1362h11v12h-11zM291 1374h11v13h-11zM500 1374h22v13h-22zM566 1374h11v13h-11zM698 1374h11v13h-11zM500 1387h11v12h-11zM533 1387h11v12h-11zM566 1387h11v12h-11zM588 1387h11v12h-11zM577 1423h11v13h-11z"/><path fill="#3c658c" d="M247 1069h11v12h-11zM247 1240h11v12h-11zM753 1240h11v12h-11zM764 1264h11v13h-11zM258 1289h11v12h-11zM258 1301h11v12h-11zM764 1326h11v12h-11zM302 1338h11v12h-11zM269 1350h11v12h-11zM742 1350h11v12h-11zM742 1362h11v12h-11zM478 1374h11v13h-11zM335 1387h11v12h-11zM445 1387h11v12h-11zM489 1387h11v12h-11zM555 1387h11v12h-11zM577 1387h11v12h-11zM423 1399h11v12h-11zM621 1423h11v13h-11z"/><path fill="#3c6288" d="M247 1106h11v12h-11zM247 1179h11v12h-11zM247 1277h11v12h-11zM753 1289h11v12h-11zM753 1301h11v12h-11zM742 1326h11v12h-11zM269 1362h11v12h-11zM456 1387h11v12h-11zM522 1387h11v12h-11zM687 1387h11v12h-11zM357 1423h11v13h-11z"/><path fill="#3d6083" d="M247 1191h11v12h-11zM258 1240h11v12h-11zM742 1240h11v12h-11zM247 1252h11v12h-11zM764 1252h11v12h-11zM258 1326h11v12h-11zM753 1326h11v12h-11zM764 1362h11v12h-11zM357 1374h11v13h-11zM654 1374h11v13h-11zM632 1387h11v12h-11zM379 1399h11v12h-11zM775 1411h11v12h-11zM236 1423h11v13h-11zM302 1423h11v13h-11zM401 1423h11v13h-11zM489 1423h11v13h-11zM522 1423h11v13h-11z"/><path fill="#3d5d7f" d="M247 1203h11v13h-11zM247 1301h11v12h-11zM247 1313h22v13h-22zM753 1313h11v13h-11zM577 1350h11v12h-11zM489 1374h11v13h-11zM412 1387h11v12h-11zM621 1387h11v12h-11zM346 1423h11v13h-11zM555 1423h11v13h-11z"/><path fill="#3d5b7a" d="M753 1338h22v12h-22zM544 1387h11v12h-11zM720 1387h11v12h-11zM687 1411h11v12h-11zM434 1423h11v13h-11zM511 1423h11v13h-11zM533 1423h11v13h-11zM588 1423h11v13h-11z"/><path fill="#3d5976" d="M247 1264h11v13h-11zM302 1387h22v12h-22zM423 1387h11v12h-11zM610 1387h11v12h-11zM643 1387h11v12h-11zM236 1399h11v12h-11zM467 1411h11v12h-11zM313 1423h11v13h-11zM335 1423h11v13h-11zM566 1423h11v13h-11zM687 1423h11v13h-11z"/><path fill="#3d5672" d="M247 1093h11v13h-11zM247 1326h11v12h-11zM258 1338h11v12h-11zM742 1374h11v13h-11zM346 1387h11v12h-11zM390 1387h11v12h-11zM731 1387h11v12h-11zM445 1411h11v12h-11zM709 1411h11v12h-11zM280 1423h11v13h-11zM368 1423h22v13h-22zM478 1423h11v13h-11zM544 1423h11v13h-11zM632 1423h11v13h-11zM698 1423h22v13h-22z"/><path fill="#3d546e" d="M247 1289h11v12h-11zM247 1338h11v12h-11zM742 1338h11v12h-11zM247 1350h22v12h-22zM753 1350h22v12h-22zM247 1362h22v12h-22zM753 1362h11v12h-11zM247 1374h33v13h-33zM709 1374h11v13h-11zM753 1374h22v13h-22zM247 1387h44v12h-44zM401 1387h11v12h-11zM742 1387h33v12h-33zM247 1399h110v12h-110zM368 1399h11v12h-11zM390 1399h33v12h-33zM434 1399h44v12h-44zM489 1399h286v12h-286zM236 1411h110v12h-110zM357 1411h88v12h-88zM456 1411h11v12h-11zM478 1411h209v12h-209zM698 1411h11v12h-11zM720 1411h55v12h-55zM247 1423h33v13h-33zM291 1423h11v13h-11zM324 1423h11v13h-11zM390 1423h11v13h-11zM412 1423h22v13h-22zM445 1423h22v13h-22zM500 1423h11v13h-11zM599 1423h22v13h-22zM643 1423h44v13h-44zM720 1423h55v13h-55z"/></g><g><rect x="1199.20" y="213.30" width="117.80" height="310.40" fill="none" stroke="#ff3838" stroke-width="0.7"/><rect x="1203.50" y="244.40" width="109.20" height="248.20" fill="none" stroke="#ff3838" stroke-width="0.7"/><rect x="1231.30" y="242.30" width="53.60" height="252.40" fill="none" stroke="#ff3838" stroke-width="0.7"/><rect x="1216.40" y="249.40" width="83.40" height="238.20" fill="none" stroke="#ff3838" stroke-width="0.7"/><rect x="1229.30" y="251.20" width="57.60" height="234.60" fill="none" stroke="#ff3838" stroke-width="0.7"/><rect x="1243.60" y="253.20" width="29.00" height="230.60" fill="none" stroke="#ff3838" stroke-width="0.7"/><rect x="1243.70" y="253.80" width="28.80" height="229.40" fill="none" stroke="#ff3838" stroke-width="0.7"/><rect x="1214.30" y="253.20" width="87.60" height="230.60" fill="none" stroke="#ff3838" stroke-width="0.7"/><rect x="1204.70" y="255.20" width="106.80" height="226.60" fill="none" stroke="#ff3838" stroke-width="0.7"/><rect x="1205.90" y="255.20" width="104.40" height="226.60" fill="none" stroke="#ff3838" stroke-width="0.7"/><rect x="1220.50" y="256.30" width="75.20" height="224.40" fill="none" stroke="#ff3838" stroke-width="0.7"/><rect x="1190.40" y="259.40" width="135.40" height="218.20" fill="none" stroke="#ff3838" stroke-width="0.7"/><rect x="1190.70" y="260.00" width="134.80" height="217.00" fill="none" stroke="#ff3838" stroke-width="0.7"/><rect x="1190.20" y="259.10" width="135.80" height="218.80" fill="none" stroke="#ff3838" stroke-width="0.7"/><rect x="1193.20" y="263.00" width="129.80" height="211.00" fill="none" stroke="#ff3838" stroke-width="0.7"/><rect x="1195.50" y="266.10" width="125.20" height="204.80" fill="none" stroke="#ff3838" stroke-width="0.7"/><rect x="1196.30" y="268.10" width="123.60" height="200.80" fill="none" stroke="#ff3838" stroke-width="0.7"/><rect x="1205.90" y="261.30" width="104.40" height="214.40" fill="none" stroke="#ff3838" stroke-width="0.7"/><rect x="1205.90" y="262.20" width="104.40" height="212.60" fill="none" stroke="#ff3838" stroke-width="0.7"/><rect x="1207.00" y="272.00" width="102.20" height="193.00" fill="none" stroke="#ff3838" stroke-width="0.7"/><rect x="1207.00" y="272.90" width="102.20" height="191.20" fill="none" stroke="#ff3838" stroke-width="0.7"/><rect x="1207.60" y="273.70" width="101.00" height="189.60" fill="none" stroke="#ff3838" stroke-width="0.7"/><rect x="1202.20" y="276.30" width="111.80" height="184.40" fill="none" stroke="#ff3838" stroke-width="0.7"/><rect x="1208.10" y="277.50" width="100.00" height="182.00" fill="none" stroke="#ff3838" stroke-width="0.7"/><rect x="1210.10" y="278.30" width="96.00" height="180.40" fill="none" stroke="#ff3838" stroke-width="0.7"/><rect x="1209.10" y="279.10" width="98.00" height="178.80" fill="none" stroke="#ff3838" stroke-width="0.7"/><rect x="1193.20" y="280.20" width="129.80" height="176.60" fill="none" stroke="#ff3838" stroke-width="0.7"/><rect x="1185.30" y="284.10" width="145.60" height="168.80" fill="none" stroke="#ff3838" stroke-width="0.7"/><rect x="1181.10" y="323.20" width="154.00" height="90.60" fill="none" stroke="#ff3838" stroke-width="0.7"/><rect x="1185.80" y="285.50" width="144.60" height="166.00" fill="none" stroke="#ff3838" stroke-width="0.7"/><rect x="1187.10" y="282.50" width="142.00" height="172.00" fill="none" stroke="#ff3838" stroke-width="0.7"/><rect x="1188.60" y="284.50" width="139.00" height="168.00" fill="none" stroke="#ff3838" stroke-width="0.7"/><rect x="1190.40" y="259.50" width="135.40" height="218.00" fill="none" stroke="#ff3838" stroke-width="1.5"/><rect x="1192.50" y="261.60" width="131.20" height="213.80" fill="none" stroke="#ff3838" stroke-width="0.9"/><rect x="1213.20" y="269.10" width="89.80" height="198.80" fill="none" stroke="#ff3838" stroke-width="0.7"/><rect x="1213.20" y="268.50" width="89.80" height="200.00" fill="none" stroke="#ff3838" stroke-width="0.7"/><rect x="1213.20" y="267.90" width="89.80" height="201.20" fill="none" stroke="#ff3838" stroke-width="0.7"/><rect x="1213.20" y="267.30" width="89.80" height="202.40" fill="none" stroke="#ff3838" stroke-width="0.7"/><rect x="1213.20" y="266.70" width="89.80" height="203.60" fill="none" stroke="#ff3838" stroke-width="0.7"/><rect x="1207.10" y="272.10" width="102.00" height="192.80" fill="none" stroke="#ff3838" stroke-width="0.7"/><rect x="1207.10" y="272.70" width="102.00" height="191.60" fill="none" stroke="#ff3838" stroke-width="0.7"/><rect x="1207.10" y="273.30" width="102.00" height="190.40" fill="none" stroke="#ff3838" stroke-width="0.7"/><rect x="1207.10" y="273.70" width="102.00" height="189.60" fill="none" stroke="#ff3838" stroke-width="0.7"/><rect x="1207.60" y="270.40" width="101.00" height="196.20" fill="none" stroke="#ff3838" stroke-width="0.7"/><rect x="1209.10" y="275.30" width="98.00" height="186.40" fill="none" stroke="#ff3838" stroke-width="0.7"/><rect x="1193.03" y="286.12" width="130.15" height="164.76" fill="none" stroke="#ff3838" stroke-width="0.7"/><rect x="1192.25" y="284.80" width="131.70" height="167.40" fill="none" stroke="#ff3838" stroke-width="0.7"/><rect x="1199.25" y="282.24" width="117.70" height="172.51" fill="none" stroke="#ff3838" stroke-width="0.7"/><rect x="1189.21" y="288.37" width="137.77" height="160.26" fill="none" stroke="#ff3838" stroke-width="0.7"/><rect x="1197.05" y="285.91" width="122.09" height="165.19" fill="none" stroke="#ff3838" stroke-width="0.7"/><rect x="1193.99" y="278.54" width="128.23" height="179.91" fill="none" stroke="#ff3838" stroke-width="0.7"/><rect x="1193.91" y="280.14" width="128.39" height="176.73" fill="none" stroke="#ff3838" stroke-width="0.7"/><rect x="1198.14" y="282.11" width="119.92" height="172.78" fill="none" stroke="#ff3838" stroke-width="0.7"/><rect x="1188.82" y="282.15" width="138.57" height="172.70" fill="none" stroke="#ff3838" stroke-width="0.7"/><rect x="1190.46" y="283.27" width="135.27" height="170.46" fill="none" stroke="#ff3838" stroke-width="0.7"/><rect x="1199.27" y="281.79" width="117.66" height="173.43" fill="none" stroke="#ff3838" stroke-width="0.7"/><rect x="1192.42" y="280.92" width="131.37" height="175.16" fill="none" stroke="#ff3838" stroke-width="0.7"/><rect x="1208.10" y="276.50" width="100" height="184" fill="#ff3838"/><rect x="1204.60" y="281.00" width="107" height="175" fill="#ff3838"/><rect x="1186.20" y="287.80" width="143.8" height="161.4" fill="#ff3838"/><line x1="1189.10" y1="290.5" x2="1189.10" y2="446.5" stroke="#fff" stroke-width="0.5" opacity="0.28" stroke-dasharray="5 6"/><line x1="1327.10" y1="290.5" x2="1327.10" y2="446.5" stroke="#fff" stroke-width="0.5" opacity="0.28" stroke-dasharray="5 6"/><line x1="1193.90" y1="289.5" x2="1193.90" y2="447.5" stroke="#fff" stroke-width="0.5" opacity="0.28" stroke-dasharray="5 6"/><line x1="1322.30" y1="289.5" x2="1322.30" y2="447.5" stroke="#fff" stroke-width="0.5" opacity="0.28" stroke-dasharray="5 6"/><line x1="1200.80" y1="298.5" x2="1200.80" y2="438.5" stroke="#fff" stroke-width="0.5" opacity="0.28" stroke-dasharray="5 6"/><line x1="1315.40" y1="298.5" x2="1315.40" y2="438.5" stroke="#fff" stroke-width="0.5" opacity="0.28" stroke-dasharray="5 6"/><line x1="1209.30" y1="306.5" x2="1209.30" y2="430.5" stroke="#fff" stroke-width="0.5" opacity="0.28" stroke-dasharray="5 6"/><line x1="1306.90" y1="306.5" x2="1306.90" y2="430.5" stroke="#fff" stroke-width="0.5" opacity="0.28" stroke-dasharray="5 6"/><rect x="1244.00" y="344.00" width="28.2" height="49" fill="#ff8a8a"/><rect x="1248.70" y="344.00" width="18.80" height="49.00" fill="none" stroke="#ff3838" stroke-width="0.5"/><rect x="1246.90" y="344.00" width="22.40" height="49.00" fill="none" stroke="#ff3838" stroke-width="0.5"/><rect x="1245.10" y="344.00" width="26.00" height="49.00" fill="none" stroke="#ff3838" stroke-width="0.5"/><rect x="1250.10" y="344.00" width="16.00" height="49.00" fill="none" stroke="#e53c3c" stroke-width="1.1"/><rect x="1250.85" y="344.00" width="14.5" height="49" fill="#ffb0b0"/><rect x="1250.85" y="350.60" width="14.5" height="35.8" fill="#fff"/><rect x="1250.85" y="346.80" width="14.5" height="1.2" fill="#fff" opacity="0.8"/><rect x="1250.85" y="389.00" width="14.5" height="1.2" fill="#fff" opacity="0.8"/><line x1="1240.20" y1="344.00" x2="1240.20" y2="348.00" stroke="#fff" stroke-width="0.5" opacity="0.6" stroke-dasharray="1.2 0.8"/><line x1="1240.20" y1="393.00" x2="1240.20" y2="389.00" stroke="#fff" stroke-width="0.5" opacity="0.6" stroke-dasharray="1.2 0.8"/><line x1="1276.00" y1="344.00" x2="1276.00" y2="348.00" stroke="#fff" stroke-width="0.5" opacity="0.6" stroke-dasharray="1.2 0.8"/><line x1="1276.00" y1="393.00" x2="1276.00" y2="389.00" stroke="#fff" stroke-width="0.5" opacity="0.6" stroke-dasharray="1.2 0.8"/></g>
<g fill="#000"><rect x="509.90" y="705" width="2.2" height="9.8"/><rect x="200.20" y="703.90" width="9.8" height="2.2"/><rect x="200.20" y="591.90" width="9.8" height="2.2"/><rect x="200.20" y="478.90" width="9.8" height="2.2"/><rect x="200.20" y="366.90" width="9.8" height="2.2"/><rect x="200.20" y="253.90" width="9.8" height="2.2"/><rect x="200.20" y="141.90" width="9.8" height="2.2"/><rect x="231.90" y="1478" width="2.2" height="9.8"/><rect x="342.90" y="1478" width="2.2" height="9.8"/><rect x="454.90" y="1478" width="2.2" height="9.8"/><rect x="565.90" y="1478" width="2.2" height="9.8"/><rect x="676.90" y="1478" width="2.2" height="9.8"/><rect x="787.90" y="1478" width="2.2" height="9.8"/><rect x="200.20" y="1456.90" width="9.8" height="2.2"/><rect x="200.20" y="1330.90" width="9.8" height="2.2"/><rect x="200.20" y="1205.90" width="9.8" height="2.2"/><rect x="200.20" y="1079.90" width="9.8" height="2.2"/><rect x="200.20" y="954.90" width="9.8" height="2.2"/><rect x="200.20" y="828.90" width="9.8" height="2.2"/><rect x="971.90" y="1478" width="2.2" height="9.8"/><rect x="1161.90" y="1478" width="2.2" height="9.8"/><rect x="1350.90" y="1478" width="2.2" height="9.8"/><rect x="1540.90" y="1478" width="2.2" height="9.8"/><rect x="946.20" y="1460.90" width="9.8" height="2.2"/><rect x="946.20" y="1383.90" width="9.8" height="2.2"/><rect x="946.20" y="1307.90" width="9.8" height="2.2"/><rect x="946.20" y="1230.90" width="9.8" height="2.2"/><rect x="946.20" y="1154.90" width="9.8" height="2.2"/><rect x="946.20" y="1077.90" width="9.8" height="2.2"/><rect x="946.20" y="1001.90" width="9.8" height="2.2"/><rect x="946.20" y="924.90" width="9.8" height="2.2"/><rect x="946.20" y="848.90" width="9.8" height="2.2"/></g>
<g font-family="'Liberation Sans', sans-serif" fill="#000" stroke="none"><text x="520.8" y="727.4" font-size="27.78" text-anchor="end" transform="rotate(-90 520.8 727.4)">pos</text><text x="189.4" y="716.6" font-size="30.56" text-anchor="end">0</text><text x="189.4" y="604.2" font-size="30.56" text-anchor="end">20000</text><text x="189.4" y="491.8" font-size="30.56" text-anchor="end">40000</text><text x="189.4" y="379.5" font-size="30.56" text-anchor="end">60000</text><text x="189.4" y="267.1" font-size="30.56" text-anchor="end">80000</text><text x="189.4" y="154.7" font-size="30.56" text-anchor="end">100000</text><text x="58.2" y="373" font-size="30.56" text-anchor="middle" transform="rotate(-90 58.2 373)">instances</text><text x="233.3" y="1521.1" font-size="30.56" text-anchor="middle">0.0</text><text x="344.4" y="1521.1" font-size="30.56" text-anchor="middle">0.2</text><text x="455.5" y="1521.1" font-size="30.56" text-anchor="middle">0.4</text><text x="566.6" y="1521.1" font-size="30.56" text-anchor="middle">0.6</text><text x="677.7" y="1521.1" font-size="30.56" text-anchor="middle">0.8</text><text x="788.8" y="1521.1" font-size="30.56" text-anchor="middle">1.0</text><text x="511.2" y="1561.8" font-size="30.56" text-anchor="middle">x</text><text x="189.3" y="1469.6" font-size="30.56" text-anchor="end">0.0</text><text x="189.3" y="1344.0" font-size="30.56" text-anchor="end">0.2</text><text x="189.3" y="1218.4" font-size="30.56" text-anchor="end">0.4</text><text x="189.3" y="1092.8" font-size="30.56" text-anchor="end">0.6</text><text x="189.3" y="967.2" font-size="30.56" text-anchor="end">0.8</text><text x="189.3" y="841.6" font-size="30.56" text-anchor="end">1.0</text><text x="123.3" y="1143.0" font-size="30.56" text-anchor="middle" transform="rotate(-90 123.3 1143.0)">y</text><text x="973.1" y="1521.1" font-size="30.56" text-anchor="middle">0.0</text><text x="1162.6" y="1521.1" font-size="30.56" text-anchor="middle">0.2</text><text x="1352.1" y="1521.1" font-size="30.56" text-anchor="middle">0.4</text><text x="1541.5" y="1521.1" font-size="30.56" text-anchor="middle">0.6</text><text x="1258.1" y="1561.8" font-size="30.56" text-anchor="middle">width</text><text x="936.3" y="1473.3" font-size="30.56" text-anchor="end">0.0</text><text x="936.3" y="1396.8" font-size="30.56" text-anchor="end">0.1</text><text x="936.3" y="1320.4" font-size="30.56" text-anchor="end">0.2</text><text x="936.3" y="1243.9" font-size="30.56" text-anchor="end">0.3</text><text x="936.3" y="1167.4" font-size="30.56" text-anchor="end">0.4</text><text x="936.3" y="1090.9" font-size="30.56" text-anchor="end">0.5</text><text x="936.3" y="1014.5" font-size="30.56" text-anchor="end">0.6</text><text x="936.3" y="938.0" font-size="30.56" text-anchor="end">0.7</text><text x="936.3" y="861.5" font-size="30.56" text-anchor="end">0.8</text><text x="872.2" y="1145.9" font-size="30.56" text-anchor="middle" transform="rotate(-90 872.2 1145.9)">height</text></g>
</svg>
</body></html>
